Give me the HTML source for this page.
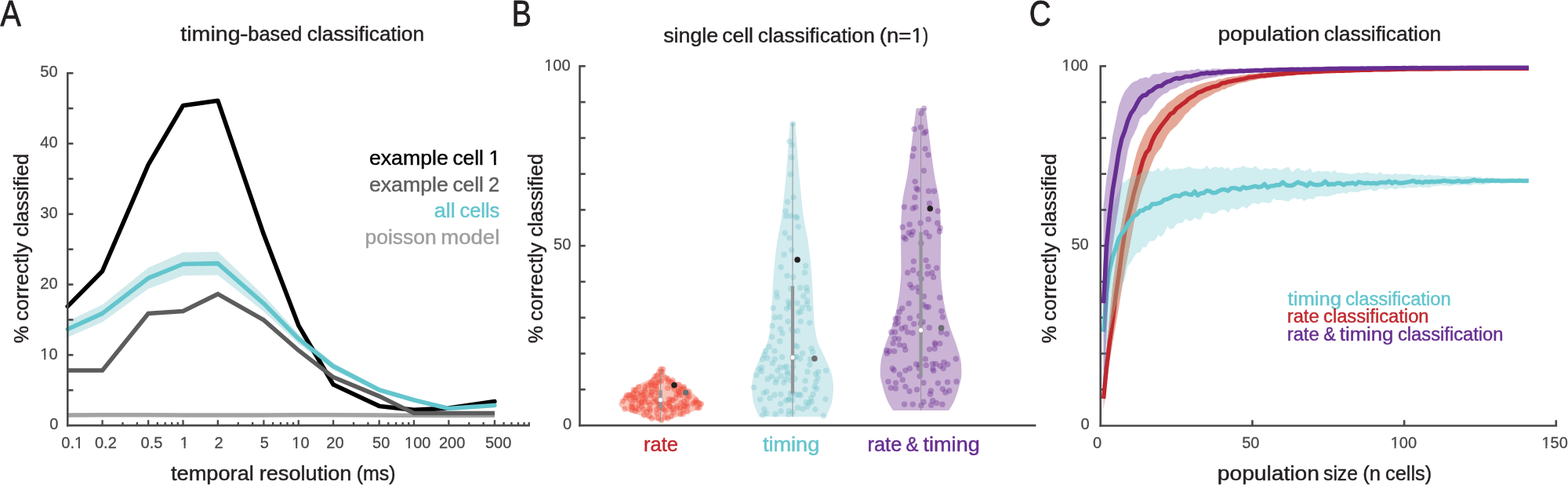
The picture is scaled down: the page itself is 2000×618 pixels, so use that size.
<!DOCTYPE html>
<html lang="en"><head><meta charset="utf-8"><title>classification figure</title>
<style>
html,body{margin:0;padding:0;background:#fff;}
body{width:2000px;height:618px;overflow:hidden;}
svg{display:block;font-family:"Liberation Sans",sans-serif;}
</style></head><body>
<svg width="2000" height="618" viewBox="0 0 2000 618">
<rect width="2000" height="618" fill="#ffffff"/>
<g id="panelA">
<polygon points="86.25,409.14 130.58,388.13 189.17,340.99 233.5,321.69 277.83,320.79 336.42,376.46 380.75,425.39 425.08,462.2 483.67,493.71 528,507.09 572.33,518.76 630.92,514.63 630.92,518.22 572.33,522.35 528,512.47 483.67,499.99 425.08,471.17 380.75,437.96 336.42,397.11 277.83,350.42 233.5,351.32 189.17,367.93 130.58,410.57 86.25,429.79" fill="#d0eaec" fill-opacity="1"/>
<polyline points="86.25,528.99 130.58,528.63 189.17,528.81 233.5,528.99 277.83,529.08 336.42,529.08 380.75,528.63 425.08,528.81 483.67,529.08 528,529.35 572.33,529.53 630.92,529.35" fill="none" stroke="#a3a3a3" stroke-width="5.5" stroke-linejoin="miter" stroke-linecap="butt"/>
<polyline points="86.25,390.37 130.58,345.48 189.17,209.91 233.5,134.5 277.83,128.21 336.42,298.8 380.75,414.61 425.08,490.03 483.67,517.41 528,522.35 572.33,520.1 630.92,511.57" fill="none" stroke="#000000" stroke-width="5.6" stroke-linejoin="round" stroke-linecap="round"/>
<polyline points="86.25,472.07 130.58,472.07 189.17,399.53 233.5,396.48 277.83,374.66 336.42,407.88 380.75,446.48 425.08,480.6 483.67,504.84 528,526.57 572.33,526.57 630.92,526.57" fill="none" stroke="#5c5c5c" stroke-width="5.5" stroke-linejoin="miter" stroke-linecap="butt"/>
<polyline points="86.25,419.46 130.58,399.35 189.17,354.46 233.5,336.5 277.83,335.61 336.42,386.78 380.75,431.67 425.08,466.68 483.67,496.85 528,509.78 572.33,520.55 630.92,516.42" fill="none" stroke="#63c5cd" stroke-width="5.6" stroke-linejoin="round" stroke-linecap="round"/>
<line x1="86.25" y1="91.9" x2="86.25" y2="543.4" stroke="#47484a" stroke-width="2.6"/>
<line x1="84.95" y1="542.1" x2="675.9" y2="542.1" stroke="#47484a" stroke-width="2.6"/>
<line x1="86.25" y1="497.21" x2="93.4" y2="497.21" stroke="#47484a" stroke-width="2.6"/>
<line x1="86.25" y1="452.32" x2="93.4" y2="452.32" stroke="#47484a" stroke-width="2.6"/>
<line x1="86.25" y1="407.43" x2="93.4" y2="407.43" stroke="#47484a" stroke-width="2.6"/>
<line x1="86.25" y1="362.54" x2="93.4" y2="362.54" stroke="#47484a" stroke-width="2.6"/>
<line x1="86.25" y1="317.65" x2="93.4" y2="317.65" stroke="#47484a" stroke-width="2.6"/>
<line x1="86.25" y1="272.76" x2="93.4" y2="272.76" stroke="#47484a" stroke-width="2.6"/>
<line x1="86.25" y1="227.87" x2="93.4" y2="227.87" stroke="#47484a" stroke-width="2.6"/>
<line x1="86.25" y1="182.98" x2="93.4" y2="182.98" stroke="#47484a" stroke-width="2.6"/>
<line x1="86.25" y1="138.09" x2="93.4" y2="138.09" stroke="#47484a" stroke-width="2.6"/>
<line x1="86.25" y1="93.2" x2="93.4" y2="93.2" stroke="#47484a" stroke-width="2.6"/>
<line x1="130.58" y1="542.1" x2="130.58" y2="535.2" stroke="#47484a" stroke-width="2.3"/>
<line x1="156.51" y1="542.1" x2="156.51" y2="538" stroke="#47484a" stroke-width="2.3"/>
<line x1="174.9" y1="542.1" x2="174.9" y2="538" stroke="#47484a" stroke-width="2.3"/>
<line x1="189.17" y1="542.1" x2="189.17" y2="535.2" stroke="#47484a" stroke-width="2.3"/>
<line x1="200.83" y1="542.1" x2="200.83" y2="538" stroke="#47484a" stroke-width="2.3"/>
<line x1="210.69" y1="542.1" x2="210.69" y2="538" stroke="#47484a" stroke-width="2.3"/>
<line x1="219.23" y1="542.1" x2="219.23" y2="538" stroke="#47484a" stroke-width="2.3"/>
<line x1="226.76" y1="542.1" x2="226.76" y2="538" stroke="#47484a" stroke-width="2.3"/>
<line x1="233.5" y1="542.1" x2="233.5" y2="535.2" stroke="#47484a" stroke-width="2.3"/>
<line x1="277.83" y1="542.1" x2="277.83" y2="535.2" stroke="#47484a" stroke-width="2.3"/>
<line x1="303.76" y1="542.1" x2="303.76" y2="538" stroke="#47484a" stroke-width="2.3"/>
<line x1="322.15" y1="542.1" x2="322.15" y2="538" stroke="#47484a" stroke-width="2.3"/>
<line x1="336.42" y1="542.1" x2="336.42" y2="535.2" stroke="#47484a" stroke-width="2.3"/>
<line x1="348.08" y1="542.1" x2="348.08" y2="538" stroke="#47484a" stroke-width="2.3"/>
<line x1="357.94" y1="542.1" x2="357.94" y2="538" stroke="#47484a" stroke-width="2.3"/>
<line x1="366.48" y1="542.1" x2="366.48" y2="538" stroke="#47484a" stroke-width="2.3"/>
<line x1="374.01" y1="542.1" x2="374.01" y2="538" stroke="#47484a" stroke-width="2.3"/>
<line x1="380.75" y1="542.1" x2="380.75" y2="535.2" stroke="#47484a" stroke-width="2.3"/>
<line x1="425.08" y1="542.1" x2="425.08" y2="535.2" stroke="#47484a" stroke-width="2.3"/>
<line x1="451.01" y1="542.1" x2="451.01" y2="538" stroke="#47484a" stroke-width="2.3"/>
<line x1="469.4" y1="542.1" x2="469.4" y2="538" stroke="#47484a" stroke-width="2.3"/>
<line x1="483.67" y1="542.1" x2="483.67" y2="535.2" stroke="#47484a" stroke-width="2.3"/>
<line x1="495.33" y1="542.1" x2="495.33" y2="538" stroke="#47484a" stroke-width="2.3"/>
<line x1="505.19" y1="542.1" x2="505.19" y2="538" stroke="#47484a" stroke-width="2.3"/>
<line x1="513.73" y1="542.1" x2="513.73" y2="538" stroke="#47484a" stroke-width="2.3"/>
<line x1="521.26" y1="542.1" x2="521.26" y2="538" stroke="#47484a" stroke-width="2.3"/>
<line x1="528" y1="542.1" x2="528" y2="535.2" stroke="#47484a" stroke-width="2.3"/>
<line x1="572.33" y1="542.1" x2="572.33" y2="535.2" stroke="#47484a" stroke-width="2.3"/>
<line x1="598.26" y1="542.1" x2="598.26" y2="538" stroke="#47484a" stroke-width="2.3"/>
<line x1="616.65" y1="542.1" x2="616.65" y2="538" stroke="#47484a" stroke-width="2.3"/>
<line x1="630.92" y1="542.1" x2="630.92" y2="535.2" stroke="#47484a" stroke-width="2.3"/>
<line x1="642.58" y1="542.1" x2="642.58" y2="538" stroke="#47484a" stroke-width="2.3"/>
<line x1="652.44" y1="542.1" x2="652.44" y2="538" stroke="#47484a" stroke-width="2.3"/>
<line x1="660.98" y1="542.1" x2="660.98" y2="538" stroke="#47484a" stroke-width="2.3"/>
<line x1="668.51" y1="542.1" x2="668.51" y2="538" stroke="#47484a" stroke-width="2.3"/>
<line x1="674.75" y1="542.1" x2="674.75" y2="538" stroke="#47484a" stroke-width="2.3"/>
<text x="63.29" y="547.3" font-size="20" fill="#48484a" stroke="#48484a" stroke-width="0.3" stroke-linejoin="round">0</text>
<text x="51.37" y="457.52" font-size="20" fill="#48484a" stroke="#48484a" stroke-width="0.3" stroke-linejoin="round">10</text>
<rect x="52.22" y="454.58" width="4.01" height="4.39" fill="#ffffff"/>
<rect x="58.34" y="454.58" width="3.82" height="4.39" fill="#ffffff"/>
<text x="51.37" y="367.74" font-size="20" fill="#48484a" stroke="#48484a" stroke-width="0.3" stroke-linejoin="round">20</text>
<text x="51.37" y="277.96" font-size="20" fill="#48484a" stroke="#48484a" stroke-width="0.3" stroke-linejoin="round">30</text>
<text x="51.37" y="188.18" font-size="20" fill="#48484a" stroke="#48484a" stroke-width="0.3" stroke-linejoin="round">40</text>
<text x="51.37" y="98.4" font-size="20" fill="#48484a" stroke="#48484a" stroke-width="0.3" stroke-linejoin="round">50</text>
<text x="121.01" y="570.9" font-size="20" fill="#48484a" stroke="#48484a" stroke-width="0.3" stroke-linejoin="round">0.2</text>
<text x="179.52" y="570.9" font-size="20" fill="#48484a" stroke="#48484a" stroke-width="0.3" stroke-linejoin="round">0.5</text>
<text x="229.64" y="570.9" font-size="20" fill="#48484a" stroke="#48484a" stroke-width="0.3" stroke-linejoin="round">1</text>
<rect x="230.49" y="567.96" width="4.01" height="4.39" fill="#ffffff"/>
<rect x="236.6" y="567.96" width="3.82" height="4.39" fill="#ffffff"/>
<text x="273.44" y="570.9" font-size="20" fill="#48484a" stroke="#48484a" stroke-width="0.3" stroke-linejoin="round">2</text>
<text x="331.65" y="570.9" font-size="20" fill="#48484a" stroke="#48484a" stroke-width="0.3" stroke-linejoin="round">5</text>
<text x="416.36" y="570.9" font-size="20" fill="#48484a" stroke="#48484a" stroke-width="0.3" stroke-linejoin="round">20</text>
<text x="475.06" y="570.9" font-size="20" fill="#48484a" stroke="#48484a" stroke-width="0.3" stroke-linejoin="round">50</text>
<text x="560" y="570.9" font-size="20" fill="#48484a" stroke="#48484a" stroke-width="0.3" stroke-linejoin="round">200</text>
<text x="618.9" y="570.9" font-size="20" fill="#48484a" stroke="#48484a" stroke-width="0.3" stroke-linejoin="round">500</text>
<text x="78.37" y="570.9" font-size="20" fill="#48484a" stroke="#48484a" stroke-width="0.3" stroke-linejoin="round">0.1</text>
<rect x="95.9" y="567.96" width="4.01" height="4.39" fill="#ffffff"/>
<rect x="102.02" y="567.96" width="3.82" height="4.39" fill="#ffffff"/>
<text x="372.27" y="570.9" font-size="20" fill="#48484a" stroke="#48484a" stroke-width="0.3" stroke-linejoin="round">10</text>
<rect x="373.12" y="567.96" width="4.01" height="4.39" fill="#ffffff"/>
<rect x="379.24" y="567.96" width="3.82" height="4.39" fill="#ffffff"/>
<text x="516.05" y="570.9" font-size="20" fill="#48484a" stroke="#48484a" stroke-width="0.3" stroke-linejoin="round">100</text>
<rect x="516.9" y="567.96" width="4.01" height="4.39" fill="#ffffff"/>
<rect x="523.02" y="567.96" width="3.82" height="4.39" fill="#ffffff"/>
<text y="32.7" font-size="46.5" fill="#231f20" stroke="#231f20" stroke-width="0.9" stroke-linejoin="round"><tspan x="0.57" textLength="26.26" lengthAdjust="spacingAndGlyphs">A</tspan></text>
<text y="52.1" font-size="26.2" fill="#231f20" stroke="#231f20" stroke-width="0.45" stroke-linejoin="round"><tspan x="230.3" textLength="76.32" lengthAdjust="spacingAndGlyphs">timing</tspan><tspan x="305.7" textLength="10.81" lengthAdjust="spacingAndGlyphs">-</tspan><tspan x="316.35" textLength="69.06" lengthAdjust="spacingAndGlyphs">based</tspan> <tspan x="391.72" textLength="149.34" lengthAdjust="spacingAndGlyphs">classification</tspan></text>
<text y="611.75" font-size="26.2" fill="#231f20" stroke="#231f20" stroke-width="0.45" stroke-linejoin="round"><tspan x="218.07" textLength="105.72" lengthAdjust="spacingAndGlyphs">temporal</tspan> <tspan x="330.68" textLength="117.83" lengthAdjust="spacingAndGlyphs">resolution</tspan> <tspan x="454.68" textLength="49.9" lengthAdjust="spacingAndGlyphs">(ms)</tspan></text>
<text y="36.1" font-size="26.2" fill="#231f20" transform="rotate(-90)" stroke="#231f20" stroke-width="0.45" stroke-linejoin="round"><tspan x="-437.46" textLength="22.42" lengthAdjust="spacingAndGlyphs">%</tspan> <tspan x="-409.09" textLength="100.02" lengthAdjust="spacingAndGlyphs">correctly</tspan> <tspan x="-301.76" textLength="106.18" lengthAdjust="spacingAndGlyphs">classified</tspan></text>
<text y="210" font-size="26.2" fill="#000000" stroke="#000000" stroke-width="0.45" stroke-linejoin="round"><tspan x="470.9" textLength="100.84" lengthAdjust="spacingAndGlyphs">example</tspan> <tspan x="577.42" textLength="39.4" lengthAdjust="spacingAndGlyphs">cell</tspan> <tspan x="623.6">1</tspan></text>
<rect x="624.81" y="206.52" width="5.14" height="5.01" fill="#ffffff"/>
<rect x="632.75" y="206.52" width="4.89" height="5.01" fill="#ffffff"/>
<text y="244" font-size="26.2" fill="#5e5e5e" stroke="#5e5e5e" stroke-width="0.45" stroke-linejoin="round"><tspan x="470.9" textLength="100.84" lengthAdjust="spacingAndGlyphs">example</tspan> <tspan x="577.42" textLength="39.4" lengthAdjust="spacingAndGlyphs">cell</tspan> <tspan x="622.96" textLength="14.09" lengthAdjust="spacingAndGlyphs">2</tspan></text>
<text y="277.2" font-size="26.2" fill="#63c5cd" stroke="#63c5cd" stroke-width="0.45" stroke-linejoin="round"><tspan x="553.8" textLength="26.86" lengthAdjust="spacingAndGlyphs">all</tspan> <tspan x="586.46" textLength="50.82" lengthAdjust="spacingAndGlyphs">cells</tspan></text>
<text y="311" font-size="26.2" fill="#9e9e9e" stroke="#9e9e9e" stroke-width="0.45" stroke-linejoin="round"><tspan x="465.43" textLength="91.34" lengthAdjust="spacingAndGlyphs">poisson</tspan> <tspan x="562.2" textLength="75.11" lengthAdjust="spacingAndGlyphs">model</tspan></text>
</g>
<g id="panelB">
<polygon points="847.1,470.5 847.26,471.25 847.44,472 847.67,472.74 847.91,473.49 848.18,474.24 848.47,474.99 848.77,475.74 849.09,476.49 849.42,477.23 849.78,477.98 850.2,478.73 850.69,479.48 851.27,480.23 852.02,480.98 853.23,481.72 854.77,482.47 856.43,483.22 858.04,483.97 859.59,484.72 861.21,485.47 862.87,486.21 864.5,486.96 866.07,487.71 867.53,488.46 868.89,489.21 870.21,489.96 871.48,490.7 872.69,491.45 873.81,492.2 874.83,492.95 875.76,493.7 876.61,494.45 877.41,495.19 878.15,495.94 878.88,496.69 879.59,497.44 880.32,498.19 881.07,498.94 881.86,499.68 882.72,500.43 883.65,501.18 884.62,501.93 885.6,502.68 886.55,503.43 887.44,504.17 888.25,504.92 888.93,505.67 889.52,506.42 890.04,507.17 890.52,507.92 891,508.66 891.51,509.41 892.07,510.16 892.79,510.91 893.68,511.66 894.6,512.41 895.4,513.15 895.95,513.9 896.1,514.65 895.94,515.4 895.61,516.15 895.13,516.9 894.53,517.64 893.86,518.39 893.16,519.14 892.31,519.89 891.19,520.64 889.84,521.39 888.32,522.13 886.68,522.88 884.99,523.63 883.16,524.38 881.04,525.13 878.74,525.88 876.4,526.62 874.18,527.37 872.11,528.12 870.1,528.87 868.12,529.62 866.1,530.37 864.02,531.11 861.81,531.86 859.47,532.61 857.04,533.36 854.56,534.11 852.08,534.86 849.61,535.6 847.11,536.35 844.6,537.1 840.6,537.1 838.09,536.35 835.59,535.6 833.12,534.86 830.64,534.11 828.16,533.36 825.73,532.61 823.39,531.86 821.18,531.11 819.1,530.37 817.08,529.62 815.1,528.87 813.09,528.12 811.02,527.37 808.8,526.62 806.46,525.88 804.16,525.13 802.04,524.38 800.21,523.63 798.52,522.88 796.88,522.13 795.36,521.39 794.01,520.64 792.89,519.89 792.04,519.14 791.34,518.39 790.67,517.64 790.07,516.9 789.59,516.15 789.26,515.4 789.1,514.65 789.25,513.9 789.8,513.15 790.6,512.41 791.52,511.66 792.41,510.91 793.13,510.16 793.69,509.41 794.2,508.66 794.68,507.92 795.16,507.17 795.68,506.42 796.27,505.67 796.95,504.92 797.76,504.17 798.65,503.43 799.6,502.68 800.58,501.93 801.55,501.18 802.48,500.43 803.34,499.68 804.13,498.94 804.88,498.19 805.61,497.44 806.32,496.69 807.05,495.94 807.79,495.19 808.59,494.45 809.44,493.7 810.37,492.95 811.39,492.2 812.51,491.45 813.72,490.7 814.99,489.96 816.31,489.21 817.67,488.46 819.13,487.71 820.7,486.96 822.33,486.21 823.99,485.47 825.61,484.72 827.16,483.97 828.77,483.22 830.43,482.47 831.97,481.72 833.18,480.98 833.93,480.23 834.51,479.48 835,478.73 835.42,477.98 835.78,477.23 836.11,476.49 836.43,475.74 836.73,474.99 837.02,474.24 837.29,473.49 837.53,472.74 837.76,472 837.94,471.25 838.1,470.5" fill="#f9c2b6" fill-opacity="1"/>
<g fill="#ee4230" fill-opacity="0.38">
<circle cx="869.01" cy="496.22" r="3.7"/>
<circle cx="871.7" cy="495.35" r="3.7"/>
<circle cx="853.39" cy="508.8" r="3.7"/>
<circle cx="844.43" cy="519.7" r="3.7"/>
<circle cx="817.85" cy="500.19" r="3.7"/>
<circle cx="852.69" cy="486.71" r="3.7"/>
<circle cx="810.48" cy="506.81" r="3.7"/>
<circle cx="825.04" cy="524.91" r="3.7"/>
<circle cx="823.79" cy="505.65" r="3.7"/>
<circle cx="851.11" cy="514.34" r="3.7"/>
<circle cx="817.92" cy="513.25" r="3.7"/>
<circle cx="823.41" cy="499.58" r="3.7"/>
<circle cx="813.05" cy="501.7" r="3.7"/>
<circle cx="872.27" cy="492.9" r="3.7"/>
<circle cx="828.03" cy="530.34" r="3.7"/>
<circle cx="838.37" cy="478.32" r="3.7"/>
<circle cx="871.78" cy="517.06" r="3.7"/>
<circle cx="843.68" cy="477.95" r="3.7"/>
<circle cx="842.73" cy="470.5" r="3.7"/>
<circle cx="894.35" cy="514.76" r="3.7"/>
<circle cx="865.33" cy="498.24" r="3.7"/>
<circle cx="876.64" cy="524.42" r="3.7"/>
<circle cx="839.21" cy="532.57" r="3.7"/>
<circle cx="846.91" cy="521.73" r="3.7"/>
<circle cx="841.11" cy="519.9" r="3.7"/>
<circle cx="836.04" cy="479.54" r="3.7"/>
<circle cx="829.59" cy="489.24" r="3.7"/>
<circle cx="848.44" cy="530.78" r="3.7"/>
<circle cx="875.85" cy="514.59" r="3.7"/>
<circle cx="867.66" cy="527.73" r="3.7"/>
<circle cx="805.81" cy="522.22" r="3.7"/>
<circle cx="802.13" cy="503.28" r="3.7"/>
<circle cx="872.38" cy="511.16" r="3.7"/>
<circle cx="833.73" cy="483.5" r="3.7"/>
<circle cx="820.19" cy="503.48" r="3.7"/>
<circle cx="828.43" cy="520.92" r="3.7"/>
<circle cx="841.9" cy="514.72" r="3.7"/>
<circle cx="888.32" cy="512.62" r="3.7"/>
<circle cx="821.57" cy="528.95" r="3.7"/>
<circle cx="829.23" cy="523.09" r="3.7"/>
<circle cx="836.85" cy="488.42" r="3.7"/>
<circle cx="887.71" cy="509.71" r="3.7"/>
<circle cx="799.54" cy="503.75" r="3.7"/>
<circle cx="810.22" cy="523.88" r="3.7"/>
<circle cx="876.21" cy="508.38" r="3.7"/>
<circle cx="837.36" cy="509.88" r="3.7"/>
<circle cx="797.05" cy="521.15" r="3.7"/>
<circle cx="833.46" cy="512.19" r="3.7"/>
<circle cx="851.73" cy="533.08" r="3.7"/>
<circle cx="861.8" cy="507.29" r="3.7"/>
<circle cx="830.89" cy="501.92" r="3.7"/>
<circle cx="871.06" cy="527.38" r="3.7"/>
<circle cx="879.16" cy="505.36" r="3.7"/>
<circle cx="807.81" cy="501.83" r="3.7"/>
<circle cx="858.51" cy="510.37" r="3.7"/>
<circle cx="868.28" cy="519.86" r="3.7"/>
<circle cx="863.51" cy="517.46" r="3.7"/>
<circle cx="889.74" cy="519.75" r="3.7"/>
<circle cx="805.69" cy="503.85" r="3.7"/>
<circle cx="822.24" cy="497.19" r="3.7"/>
<circle cx="869.73" cy="503.39" r="3.7"/>
<circle cx="840.94" cy="484.61" r="3.7"/>
<circle cx="820.72" cy="521.7" r="3.7"/>
<circle cx="856.14" cy="487.1" r="3.7"/>
<circle cx="822.9" cy="493.19" r="3.7"/>
<circle cx="871.32" cy="521.77" r="3.7"/>
<circle cx="885.97" cy="512.84" r="3.7"/>
<circle cx="857.93" cy="484.58" r="3.7"/>
<circle cx="822.27" cy="512.13" r="3.7"/>
<circle cx="857.03" cy="522.26" r="3.7"/>
<circle cx="831.2" cy="533.27" r="3.7"/>
<circle cx="839.78" cy="512.52" r="3.7"/>
<circle cx="815.14" cy="515.23" r="3.7"/>
<circle cx="876.95" cy="503.44" r="3.7"/>
<circle cx="834.87" cy="507.58" r="3.7"/>
<circle cx="845.5" cy="514.5" r="3.7"/>
<circle cx="855.97" cy="530.43" r="3.7"/>
<circle cx="814.57" cy="509.14" r="3.7"/>
<circle cx="868.86" cy="513.4" r="3.7"/>
<circle cx="892.16" cy="519.29" r="3.7"/>
<circle cx="837.33" cy="496.02" r="3.7"/>
<circle cx="840.67" cy="503.47" r="3.7"/>
<circle cx="819.08" cy="510.99" r="3.7"/>
<circle cx="831.12" cy="490.87" r="3.7"/>
<circle cx="853.29" cy="516.26" r="3.7"/>
<circle cx="843.47" cy="535.5" r="3.7"/>
<circle cx="854.48" cy="518.12" r="3.7"/>
<circle cx="853.57" cy="512.81" r="3.7"/>
<circle cx="866.56" cy="502.99" r="3.7"/>
<circle cx="810.98" cy="497.52" r="3.7"/>
<circle cx="814.49" cy="492.9" r="3.7"/>
<circle cx="830.9" cy="499.24" r="3.7"/>
<circle cx="806.35" cy="514.19" r="3.7"/>
<circle cx="859.46" cy="525.68" r="3.7"/>
<circle cx="856.55" cy="509.19" r="3.7"/>
<circle cx="810.16" cy="509.67" r="3.7"/>
<circle cx="811.05" cy="519.88" r="3.7"/>
<circle cx="866.03" cy="489.85" r="3.7"/>
<circle cx="806.88" cy="519.48" r="3.7"/>
<circle cx="813.97" cy="521.65" r="3.7"/>
<circle cx="836.83" cy="492.22" r="3.7"/>
<circle cx="845.57" cy="470.5" r="3.7"/>
<circle cx="857.72" cy="492.62" r="3.7"/>
<circle cx="891.23" cy="513.25" r="3.7"/>
<circle cx="863.09" cy="502.22" r="3.7"/>
<circle cx="866.42" cy="500.38" r="3.7"/>
<circle cx="830.88" cy="487.18" r="3.7"/>
<circle cx="807.52" cy="506.68" r="3.7"/>
<circle cx="866.2" cy="495.14" r="3.7"/>
<circle cx="817.73" cy="503.79" r="3.7"/>
<circle cx="849.1" cy="523.22" r="3.7"/>
<circle cx="884.06" cy="514.53" r="3.7"/>
<circle cx="818.29" cy="517.61" r="3.7"/>
<circle cx="843.11" cy="473.75" r="3.7"/>
<circle cx="874.37" cy="517.36" r="3.7"/>
<circle cx="851.67" cy="494.42" r="3.7"/>
<circle cx="836.74" cy="499.97" r="3.7"/>
<circle cx="839.71" cy="515.38" r="3.7"/>
<circle cx="825.76" cy="491.11" r="3.7"/>
<circle cx="828.98" cy="515.87" r="3.7"/>
<circle cx="830.83" cy="495.34" r="3.7"/>
<circle cx="839.89" cy="486.8" r="3.7"/>
<circle cx="837.55" cy="521.62" r="3.7"/>
<circle cx="798.03" cy="507.07" r="3.7"/>
<circle cx="852.2" cy="483.03" r="3.7"/>
<circle cx="876.8" cy="517.63" r="3.7"/>
<circle cx="834.84" cy="490.78" r="3.7"/>
<circle cx="838.21" cy="526.85" r="3.7"/>
<circle cx="826.87" cy="512.6" r="3.7"/>
<circle cx="829.8" cy="503.96" r="3.7"/>
<circle cx="808.37" cy="496.72" r="3.7"/>
<circle cx="849.82" cy="481.51" r="3.7"/>
<circle cx="794.38" cy="511.08" r="3.7"/>
<circle cx="843.55" cy="485.56" r="3.7"/>
<circle cx="878.75" cy="499.07" r="3.7"/>
<circle cx="822.07" cy="508.01" r="3.7"/>
<circle cx="805.15" cy="517.83" r="3.7"/>
<circle cx="864.11" cy="520.53" r="3.7"/>
<circle cx="803.8" cy="508.64" r="3.7"/>
<circle cx="860.29" cy="496.12" r="3.7"/>
<circle cx="858.28" cy="519.64" r="3.7"/>
</g>
<line x1="842.6" y1="470.5" x2="842.6" y2="537.1" stroke="#929496" stroke-width="1"/>
<line x1="842.6" y1="497.2" x2="842.6" y2="520.5" stroke="#929496" stroke-width="4.2"/>
<circle cx="842.6" cy="509.6" r="3.2" fill="#ffffff" stroke="#8c8e90" stroke-width="0.7"/>
<polygon points="1014.2,156.5 1014.54,160.71 1014.88,164.92 1015.22,169.12 1015.55,173.33 1015.87,177.54 1016.17,181.75 1016.47,185.96 1016.77,190.16 1017.07,194.37 1017.37,198.58 1017.69,202.79 1018.02,206.99 1018.36,211.2 1018.72,215.41 1019.09,219.62 1019.47,223.83 1019.85,228.03 1020.25,232.24 1020.66,236.45 1021.07,240.66 1021.48,244.87 1021.9,249.07 1022.31,253.28 1022.74,257.49 1023.18,261.7 1023.65,265.9 1024.14,270.11 1024.68,274.32 1025.27,278.53 1025.96,282.74 1026.74,286.94 1027.57,291.15 1028.41,295.36 1029.24,299.57 1030.02,303.78 1030.71,307.98 1031.3,312.19 1031.85,316.4 1032.38,320.61 1032.88,324.81 1033.36,329.02 1033.8,333.23 1034.22,337.44 1034.6,341.65 1034.95,345.85 1035.28,350.06 1035.58,354.27 1035.86,358.48 1036.13,362.69 1036.39,366.89 1036.63,371.1 1036.87,375.31 1037.08,379.52 1037.27,383.72 1037.44,387.93 1037.62,392.14 1037.8,396.35 1038.02,400.56 1038.27,404.76 1038.58,408.97 1038.97,413.18 1039.46,417.39 1040.05,421.6 1040.74,425.8 1041.55,430.01 1042.55,434.22 1044.05,438.43 1045.92,442.63 1047.99,446.84 1050.07,451.05 1052,455.26 1053.89,459.47 1055.92,463.67 1057.86,467.88 1059.51,472.09 1060.66,476.3 1061.52,480.51 1062.27,484.71 1062.81,488.92 1063,493.13 1062.88,497.34 1062.58,501.54 1062.14,505.75 1061.61,509.96 1060.68,514.17 1059.22,518.38 1057.56,522.58 1055.82,526.79 1053.8,531 968.2,531 966.18,526.79 964.44,522.58 962.78,518.38 961.32,514.17 960.39,509.96 959.86,505.75 959.42,501.54 959.12,497.34 959,493.13 959.19,488.92 959.73,484.71 960.48,480.51 961.34,476.3 962.49,472.09 964.14,467.88 966.08,463.67 968.11,459.47 970,455.26 971.93,451.05 974.01,446.84 976.08,442.63 977.95,438.43 979.45,434.22 980.45,430.01 981.26,425.8 981.95,421.6 982.54,417.39 983.03,413.18 983.42,408.97 983.73,404.76 983.98,400.56 984.2,396.35 984.38,392.14 984.56,387.93 984.73,383.72 984.92,379.52 985.13,375.31 985.37,371.1 985.61,366.89 985.87,362.69 986.14,358.48 986.42,354.27 986.72,350.06 987.05,345.85 987.4,341.65 987.78,337.44 988.2,333.23 988.64,329.02 989.12,324.81 989.62,320.61 990.15,316.4 990.7,312.19 991.29,307.98 991.98,303.78 992.76,299.57 993.59,295.36 994.43,291.15 995.26,286.94 996.04,282.74 996.73,278.53 997.32,274.32 997.86,270.11 998.35,265.9 998.82,261.7 999.26,257.49 999.69,253.28 1000.1,249.07 1000.52,244.87 1000.93,240.66 1001.34,236.45 1001.75,232.24 1002.15,228.03 1002.53,223.83 1002.91,219.62 1003.28,215.41 1003.64,211.2 1003.98,206.99 1004.31,202.79 1004.63,198.58 1004.93,194.37 1005.23,190.16 1005.53,185.96 1005.83,181.75 1006.13,177.54 1006.45,173.33 1006.78,169.12 1007.12,164.92 1007.46,160.71 1007.8,156.5" fill="#d2ebee" fill-opacity="1"/>
<g fill="#67bec8" fill-opacity="0.31">
<circle cx="1011.36" cy="157.67" r="3.7"/>
<circle cx="1006.94" cy="180.1" r="3.7"/>
<circle cx="1010.34" cy="184.85" r="3.7"/>
<circle cx="1009.66" cy="200.48" r="3.7"/>
<circle cx="1008.64" cy="222.23" r="3.7"/>
<circle cx="1012.04" cy="251.45" r="3.7"/>
<circle cx="1004.56" cy="257.23" r="3.7"/>
<circle cx="1002.18" cy="269.12" r="3.7"/>
<circle cx="1002.86" cy="275.24" r="3.7"/>
<circle cx="1008.98" cy="275.24" r="3.7"/>
<circle cx="1015.44" cy="275.92" r="3.7"/>
<circle cx="1016.46" cy="277.62" r="3.7"/>
<circle cx="1018.15" cy="288.83" r="3.7"/>
<circle cx="1001.16" cy="296.99" r="3.7"/>
<circle cx="1006.94" cy="303.1" r="3.7"/>
<circle cx="1009.66" cy="318.39" r="3.7"/>
<circle cx="1000.14" cy="324.51" r="3.7"/>
<circle cx="1027.67" cy="338.78" r="3.7"/>
<circle cx="996.07" cy="340.48" r="3.7"/>
<circle cx="1026.65" cy="347.28" r="3.7"/>
<circle cx="972.56" cy="457.63" r="3.7"/>
<circle cx="1004.85" cy="473.87" r="3.7"/>
<circle cx="997.64" cy="454.96" r="3.7"/>
<circle cx="1016.93" cy="386.23" r="3.7"/>
<circle cx="997.92" cy="424.69" r="3.7"/>
<circle cx="1013.88" cy="482.61" r="3.7"/>
<circle cx="1011.62" cy="353.04" r="3.7"/>
<circle cx="1024.96" cy="377.11" r="3.7"/>
<circle cx="1010.43" cy="509.95" r="3.7"/>
<circle cx="969.61" cy="509.05" r="3.7"/>
<circle cx="971.49" cy="468.08" r="3.7"/>
<circle cx="978.77" cy="456.3" r="3.7"/>
<circle cx="984.23" cy="479.69" r="3.7"/>
<circle cx="1003.44" cy="393.12" r="3.7"/>
<circle cx="985.38" cy="462.7" r="3.7"/>
<circle cx="1009.31" cy="484.88" r="3.7"/>
<circle cx="1000.72" cy="468.08" r="3.7"/>
<circle cx="1019" cy="502.68" r="3.7"/>
<circle cx="1020.59" cy="366.76" r="3.7"/>
<circle cx="1011" cy="525.13" r="3.7"/>
<circle cx="995.77" cy="514.45" r="3.7"/>
<circle cx="1004.03" cy="476.08" r="3.7"/>
<circle cx="1033.45" cy="457.76" r="3.7"/>
<circle cx="1053.67" cy="472.09" r="3.7"/>
<circle cx="971.41" cy="473.18" r="3.7"/>
<circle cx="1034.93" cy="444.05" r="3.7"/>
<circle cx="974.89" cy="452.35" r="3.7"/>
<circle cx="988.7" cy="404.56" r="3.7"/>
<circle cx="1050.36" cy="529.96" r="3.7"/>
<circle cx="1021.16" cy="503.47" r="3.7"/>
<circle cx="977.75" cy="499.31" r="3.7"/>
<circle cx="1012.33" cy="422.36" r="3.7"/>
<circle cx="981.01" cy="441.74" r="3.7"/>
<circle cx="1005.99" cy="528.14" r="3.7"/>
<circle cx="994.99" cy="467.91" r="3.7"/>
<circle cx="1005.09" cy="409.69" r="3.7"/>
<circle cx="1034.42" cy="507.28" r="3.7"/>
<circle cx="976.38" cy="446.96" r="3.7"/>
<circle cx="987.97" cy="503.13" r="3.7"/>
<circle cx="964.97" cy="477.98" r="3.7"/>
<circle cx="999.72" cy="487.41" r="3.7"/>
<circle cx="1003.35" cy="466.93" r="3.7"/>
<circle cx="1014.3" cy="440.27" r="3.7"/>
<circle cx="977.33" cy="526.43" r="3.7"/>
<circle cx="984.52" cy="429.29" r="3.7"/>
<circle cx="1026.89" cy="496.21" r="3.7"/>
<circle cx="1006.83" cy="390.64" r="3.7"/>
<circle cx="1027.1" cy="485.28" r="3.7"/>
<circle cx="1029.4" cy="370.64" r="3.7"/>
<circle cx="974.29" cy="500.83" r="3.7"/>
<circle cx="1035.27" cy="511.84" r="3.7"/>
<circle cx="1015.33" cy="503.27" r="3.7"/>
<circle cx="1032.06" cy="393.35" r="3.7"/>
<circle cx="996.01" cy="479.13" r="3.7"/>
<circle cx="1032.76" cy="411.29" r="3.7"/>
<circle cx="1014.16" cy="454.85" r="3.7"/>
<circle cx="1043.06" cy="481.1" r="3.7"/>
<circle cx="979.01" cy="482.89" r="3.7"/>
<circle cx="1009.95" cy="479.02" r="3.7"/>
<circle cx="1029.96" cy="473.65" r="3.7"/>
<circle cx="994.88" cy="403.99" r="3.7"/>
<circle cx="984.84" cy="415.31" r="3.7"/>
<circle cx="990.69" cy="483.58" r="3.7"/>
<circle cx="991.14" cy="378.42" r="3.7"/>
<circle cx="995.51" cy="418.97" r="3.7"/>
<circle cx="1009.44" cy="419.65" r="3.7"/>
<circle cx="1043.83" cy="473.85" r="3.7"/>
<circle cx="972.87" cy="529.05" r="3.7"/>
<circle cx="1018.28" cy="398.21" r="3.7"/>
<circle cx="1028.66" cy="366.36" r="3.7"/>
<circle cx="1023.14" cy="391.86" r="3.7"/>
<circle cx="1040.9" cy="486.35" r="3.7"/>
<circle cx="1021.37" cy="397.13" r="3.7"/>
<circle cx="1016.94" cy="441.87" r="3.7"/>
<circle cx="1023.52" cy="450.21" r="3.7"/>
<circle cx="1029.63" cy="383.28" r="3.7"/>
<circle cx="1020.63" cy="457.02" r="3.7"/>
<circle cx="1017.34" cy="421.43" r="3.7"/>
<circle cx="1006.35" cy="523.45" r="3.7"/>
<circle cx="1007.28" cy="387.3" r="3.7"/>
<circle cx="1011.63" cy="459.09" r="3.7"/>
<circle cx="968.4" cy="470.79" r="3.7"/>
<circle cx="1008.62" cy="367.77" r="3.7"/>
<circle cx="1039.04" cy="492.69" r="3.7"/>
<circle cx="1011.28" cy="500.73" r="3.7"/>
<circle cx="996.03" cy="523.92" r="3.7"/>
<circle cx="1032.81" cy="464.72" r="3.7"/>
<circle cx="1002.61" cy="510.44" r="3.7"/>
<circle cx="1005.55" cy="509.31" r="3.7"/>
<circle cx="961.36" cy="493.59" r="3.7"/>
<circle cx="974.8" cy="521.49" r="3.7"/>
<circle cx="989.26" cy="487.39" r="3.7"/>
<circle cx="1005.46" cy="384.54" r="3.7"/>
<circle cx="1017.51" cy="519.4" r="3.7"/>
<circle cx="1029.94" cy="518.1" r="3.7"/>
<circle cx="1011.55" cy="467.52" r="3.7"/>
<circle cx="986.1" cy="392.48" r="3.7"/>
<circle cx="1015.96" cy="454.49" r="3.7"/>
<circle cx="1028.24" cy="512.8" r="3.7"/>
<circle cx="1053.01" cy="508.54" r="3.7"/>
<circle cx="1039.73" cy="521.58" r="3.7"/>
<circle cx="1003.98" cy="351.4" r="3.7"/>
<circle cx="1029.33" cy="387.95" r="3.7"/>
<circle cx="995.9" cy="502.53" r="3.7"/>
<circle cx="1040.4" cy="476.33" r="3.7"/>
<circle cx="981.91" cy="507.42" r="3.7"/>
<circle cx="1041.62" cy="495.32" r="3.7"/>
<circle cx="988.41" cy="457.48" r="3.7"/>
<circle cx="1032.27" cy="513.32" r="3.7"/>
<circle cx="994.6" cy="434.75" r="3.7"/>
<circle cx="1002.53" cy="483.22" r="3.7"/>
<circle cx="1024.02" cy="520.96" r="3.7"/>
<circle cx="1036.8" cy="448.53" r="3.7"/>
<circle cx="988.03" cy="447.29" r="3.7"/>
<circle cx="1008.21" cy="501.26" r="3.7"/>
<circle cx="1021.05" cy="409.58" r="3.7"/>
<circle cx="989.23" cy="527.68" r="3.7"/>
<circle cx="1037.24" cy="502.28" r="3.7"/>
<circle cx="1007.22" cy="508.12" r="3.7"/>
<circle cx="991.85" cy="472.19" r="3.7"/>
<circle cx="990.59" cy="373.09" r="3.7"/>
</g>
<line x1="1011" y1="156.5" x2="1011" y2="531" stroke="#929496" stroke-width="1"/>
<line x1="1011" y1="364.5" x2="1011" y2="501.4" stroke="#929496" stroke-width="4.2"/>
<circle cx="1011" cy="455.5" r="3.2" fill="#ffffff" stroke="#8c8e90" stroke-width="0.7"/>
<polygon points="1180.6,138.1 1181.15,142.43 1181.71,146.75 1182.27,151.08 1182.83,155.4 1183.39,159.73 1183.96,164.06 1184.52,168.38 1185.09,172.71 1185.66,177.03 1186.21,181.36 1186.77,185.68 1187.32,190.01 1187.87,194.34 1188.43,198.66 1189,202.99 1189.58,207.31 1190.18,211.64 1190.8,215.97 1191.43,220.29 1192.1,224.62 1192.86,228.94 1193.73,233.27 1194.65,237.59 1195.57,241.92 1196.45,246.25 1197.23,250.57 1197.87,254.9 1198.32,259.22 1198.66,263.55 1198.98,267.88 1199.28,272.2 1199.55,276.53 1199.78,280.85 1199.95,285.18 1200.06,289.5 1200.1,293.83 1200.1,298.16 1200.08,302.48 1200.06,306.81 1200.03,311.13 1200,315.46 1199.97,319.79 1199.94,324.11 1199.91,328.44 1199.88,332.76 1199.84,337.09 1199.81,341.41 1199.8,345.74 1199.93,350.07 1200.19,354.39 1200.55,358.72 1200.94,363.04 1201.35,367.37 1201.85,371.7 1202.43,376.02 1203.1,380.35 1203.82,384.67 1204.6,389 1205.46,393.32 1206.44,397.65 1207.53,401.98 1208.69,406.3 1209.92,410.63 1211.19,414.95 1212.52,419.28 1214.04,423.61 1215.67,427.93 1217.34,432.26 1218.93,436.58 1220.35,440.91 1221.68,445.23 1223.04,449.56 1224.28,453.89 1225.26,458.21 1225.83,462.54 1226.15,466.86 1226.39,471.19 1226.5,475.52 1226.24,479.84 1225.45,484.17 1224.36,488.49 1223.2,492.82 1222.05,497.14 1220.73,501.47 1219.2,505.8 1217.48,510.12 1215.43,514.45 1212.92,518.77 1210.1,523.1 1139.1,523.1 1136.28,518.77 1133.77,514.45 1131.72,510.12 1130,505.8 1128.47,501.47 1127.15,497.14 1126,492.82 1124.84,488.49 1123.75,484.17 1122.96,479.84 1122.7,475.52 1122.81,471.19 1123.05,466.86 1123.37,462.54 1123.94,458.21 1124.92,453.89 1126.16,449.56 1127.52,445.23 1128.85,440.91 1130.27,436.58 1131.86,432.26 1133.53,427.93 1135.16,423.61 1136.68,419.28 1138.01,414.95 1139.28,410.63 1140.51,406.3 1141.67,401.98 1142.76,397.65 1143.74,393.32 1144.6,389 1145.38,384.67 1146.1,380.35 1146.77,376.02 1147.35,371.7 1147.85,367.37 1148.26,363.04 1148.65,358.72 1149.01,354.39 1149.27,350.07 1149.4,345.74 1149.39,341.41 1149.36,337.09 1149.32,332.76 1149.29,328.44 1149.26,324.11 1149.23,319.79 1149.2,315.46 1149.17,311.13 1149.14,306.81 1149.12,302.48 1149.1,298.16 1149.1,293.83 1149.14,289.5 1149.25,285.18 1149.42,280.85 1149.65,276.53 1149.92,272.2 1150.22,267.88 1150.54,263.55 1150.88,259.22 1151.33,254.9 1151.97,250.57 1152.75,246.25 1153.63,241.92 1154.55,237.59 1155.47,233.27 1156.34,228.94 1157.1,224.62 1157.77,220.29 1158.4,215.97 1159.02,211.64 1159.62,207.31 1160.2,202.99 1160.77,198.66 1161.33,194.34 1161.88,190.01 1162.43,185.68 1162.99,181.36 1163.54,177.03 1164.11,172.71 1164.68,168.38 1165.24,164.06 1165.81,159.73 1166.37,155.4 1166.93,151.08 1167.49,146.75 1168.05,142.43 1168.6,138.1" fill="#cab3d5" fill-opacity="1"/>
<g fill="#6a2c91" fill-opacity="0.37">
<circle cx="1178.65" cy="138.1" r="3.7"/>
<circle cx="1175.17" cy="144.36" r="3.7"/>
<circle cx="1166.12" cy="164.54" r="3.7"/>
<circle cx="1174.47" cy="162.11" r="3.7"/>
<circle cx="1180.74" cy="167.68" r="3.7"/>
<circle cx="1178.65" cy="169.76" r="3.7"/>
<circle cx="1165.77" cy="189.6" r="3.7"/>
<circle cx="1180.04" cy="189.6" r="3.7"/>
<circle cx="1164.03" cy="199" r="3.7"/>
<circle cx="1183.87" cy="197.26" r="3.7"/>
<circle cx="1178.3" cy="217.44" r="3.7"/>
<circle cx="1167.16" cy="231.36" r="3.7"/>
<circle cx="1168.9" cy="240.06" r="3.7"/>
<circle cx="1170.64" cy="241.8" r="3.7"/>
<circle cx="1184.56" cy="243.54" r="3.7"/>
<circle cx="1191.52" cy="243.54" r="3.7"/>
<circle cx="1166.82" cy="251.54" r="3.7"/>
<circle cx="1185.61" cy="259.2" r="3.7"/>
<circle cx="1153.24" cy="263.72" r="3.7"/>
<circle cx="1164.38" cy="265.46" r="3.7"/>
<circle cx="1167.51" cy="264.07" r="3.7"/>
<circle cx="1196.4" cy="268.94" r="3.7"/>
<circle cx="1184.22" cy="279.38" r="3.7"/>
<circle cx="1174.12" cy="284.26" r="3.7"/>
<circle cx="1160.2" cy="286" r="3.7"/>
<circle cx="1195.7" cy="284.26" r="3.7"/>
<circle cx="1151.16" cy="289.48" r="3.7"/>
<circle cx="1199.18" cy="290.52" r="3.7"/>
<circle cx="1198.48" cy="295.04" r="3.7"/>
<circle cx="1159.16" cy="296.78" r="3.7"/>
<circle cx="1164.38" cy="295.04" r="3.7"/>
<circle cx="1162.64" cy="299.22" r="3.7"/>
<circle cx="1181.08" cy="296.44" r="3.7"/>
<circle cx="1185.26" cy="301.31" r="3.7"/>
<circle cx="1152.9" cy="302.35" r="3.7"/>
<circle cx="1154.98" cy="304.44" r="3.7"/>
<circle cx="1174.82" cy="309.66" r="3.7"/>
<circle cx="1165.42" cy="332.98" r="3.7"/>
<circle cx="1181.08" cy="331.58" r="3.7"/>
<circle cx="1192.75" cy="438.85" r="3.7"/>
<circle cx="1175.12" cy="355.19" r="3.7"/>
<circle cx="1210.81" cy="498.06" r="3.7"/>
<circle cx="1142.14" cy="413.05" r="3.7"/>
<circle cx="1185.29" cy="417.46" r="3.7"/>
<circle cx="1182.98" cy="348.94" r="3.7"/>
<circle cx="1130.83" cy="446.48" r="3.7"/>
<circle cx="1153.36" cy="440.45" r="3.7"/>
<circle cx="1160.6" cy="405.42" r="3.7"/>
<circle cx="1168.66" cy="463.96" r="3.7"/>
<circle cx="1198.81" cy="437.63" r="3.7"/>
<circle cx="1160.8" cy="362.7" r="3.7"/>
<circle cx="1200.83" cy="396.44" r="3.7"/>
<circle cx="1187.81" cy="516.27" r="3.7"/>
<circle cx="1205.79" cy="499.99" r="3.7"/>
<circle cx="1150.73" cy="392.88" r="3.7"/>
<circle cx="1180.27" cy="457.38" r="3.7"/>
<circle cx="1159.16" cy="386.65" r="3.7"/>
<circle cx="1172.64" cy="402.69" r="3.7"/>
<circle cx="1164.73" cy="344.2" r="3.7"/>
<circle cx="1200.49" cy="417.68" r="3.7"/>
<circle cx="1154.81" cy="445.65" r="3.7"/>
<circle cx="1172.44" cy="348.68" r="3.7"/>
<circle cx="1140.88" cy="431.23" r="3.7"/>
<circle cx="1164.08" cy="424.26" r="3.7"/>
<circle cx="1199.28" cy="466.35" r="3.7"/>
<circle cx="1193.45" cy="463.63" r="3.7"/>
<circle cx="1184.33" cy="391.24" r="3.7"/>
<circle cx="1178.47" cy="377.8" r="3.7"/>
<circle cx="1171.78" cy="371.69" r="3.7"/>
<circle cx="1153.6" cy="515.11" r="3.7"/>
<circle cx="1189.59" cy="463.69" r="3.7"/>
<circle cx="1172.1" cy="469" r="3.7"/>
<circle cx="1134.49" cy="447.53" r="3.7"/>
<circle cx="1147.28" cy="439.34" r="3.7"/>
<circle cx="1189.59" cy="510.4" r="3.7"/>
<circle cx="1192.39" cy="436.91" r="3.7"/>
<circle cx="1194.84" cy="341.44" r="3.7"/>
<circle cx="1196.49" cy="488.14" r="3.7"/>
<circle cx="1200.52" cy="423.46" r="3.7"/>
<circle cx="1190.74" cy="472.38" r="3.7"/>
<circle cx="1186.46" cy="502.22" r="3.7"/>
<circle cx="1177.6" cy="388.35" r="3.7"/>
<circle cx="1203.21" cy="469.28" r="3.7"/>
<circle cx="1201.9" cy="515.25" r="3.7"/>
<circle cx="1139.22" cy="437.42" r="3.7"/>
<circle cx="1207.68" cy="425.51" r="3.7"/>
<circle cx="1173.1" cy="479.37" r="3.7"/>
<circle cx="1154.46" cy="417.04" r="3.7"/>
<circle cx="1187.42" cy="497.95" r="3.7"/>
<circle cx="1145.51" cy="405.11" r="3.7"/>
<circle cx="1189.79" cy="470.1" r="3.7"/>
<circle cx="1157.59" cy="423.14" r="3.7"/>
<circle cx="1219.3" cy="457.18" r="3.7"/>
<circle cx="1145.3" cy="411.55" r="3.7"/>
<circle cx="1177.9" cy="512.22" r="3.7"/>
<circle cx="1142.64" cy="487.84" r="3.7"/>
<circle cx="1183.71" cy="339.61" r="3.7"/>
<circle cx="1160.09" cy="498.57" r="3.7"/>
<circle cx="1154.88" cy="492.62" r="3.7"/>
<circle cx="1140.19" cy="471.79" r="3.7"/>
<circle cx="1208.65" cy="464.26" r="3.7"/>
<circle cx="1160.45" cy="469.52" r="3.7"/>
<circle cx="1138.4" cy="469.45" r="3.7"/>
<circle cx="1170.56" cy="366.2" r="3.7"/>
<circle cx="1142.38" cy="495.07" r="3.7"/>
<circle cx="1202.33" cy="495.61" r="3.7"/>
<circle cx="1164.29" cy="515.12" r="3.7"/>
<circle cx="1220.07" cy="486.18" r="3.7"/>
<circle cx="1172.85" cy="464.89" r="3.7"/>
<circle cx="1190.62" cy="353.27" r="3.7"/>
<circle cx="1136.45" cy="494.13" r="3.7"/>
<circle cx="1208.52" cy="486.85" r="3.7"/>
<circle cx="1163.49" cy="366.59" r="3.7"/>
<circle cx="1177.26" cy="410.19" r="3.7"/>
<circle cx="1177.97" cy="487.75" r="3.7"/>
<circle cx="1147.49" cy="477.3" r="3.7"/>
<circle cx="1194.58" cy="513.55" r="3.7"/>
<circle cx="1198.65" cy="379.17" r="3.7"/>
<circle cx="1154.94" cy="472.06" r="3.7"/>
<circle cx="1146.36" cy="431.84" r="3.7"/>
<circle cx="1174.81" cy="516.79" r="3.7"/>
<circle cx="1133.01" cy="486.37" r="3.7"/>
<circle cx="1141.54" cy="423.13" r="3.7"/>
<circle cx="1169.6" cy="496.39" r="3.7"/>
<circle cx="1174.45" cy="411.79" r="3.7"/>
<circle cx="1185.58" cy="445.11" r="3.7"/>
<circle cx="1181.46" cy="390.94" r="3.7"/>
<circle cx="1188.78" cy="347.42" r="3.7"/>
<circle cx="1136.84" cy="423.28" r="3.7"/>
<circle cx="1150.14" cy="418.72" r="3.7"/>
<circle cx="1203.92" cy="461.72" r="3.7"/>
<circle cx="1192.22" cy="444.13" r="3.7"/>
<circle cx="1147.1" cy="397.49" r="3.7"/>
<circle cx="1165.79" cy="412.66" r="3.7"/>
<circle cx="1140.71" cy="447.59" r="3.7"/>
<circle cx="1151.31" cy="483.92" r="3.7"/>
<circle cx="1202.44" cy="403.9" r="3.7"/>
<circle cx="1157.76" cy="347.44" r="3.7"/>
<circle cx="1181.3" cy="465.42" r="3.7"/>
<circle cx="1131.42" cy="450.21" r="3.7"/>
<circle cx="1142.34" cy="406.11" r="3.7"/>
</g>
<line x1="1174.6" y1="138.1" x2="1174.6" y2="523.1" stroke="#929496" stroke-width="1"/>
<line x1="1174.6" y1="295.7" x2="1174.6" y2="479.6" stroke="#929496" stroke-width="4.2"/>
<circle cx="1174.6" cy="420.8" r="3.2" fill="#ffffff" stroke="#8c8e90" stroke-width="0.7"/>
<circle cx="860" cy="490.8" r="3.8" fill="#231f20"/>
<circle cx="874.6" cy="500.2" r="3.8" fill="#6d6e70"/>
<circle cx="1017.1" cy="331" r="3.8" fill="#231f20"/>
<circle cx="1038.9" cy="456.9" r="3.8" fill="#6d6e70"/>
<circle cx="1186.3" cy="265.8" r="3.8" fill="#231f20"/>
<circle cx="1200.6" cy="418" r="3.8" fill="#6d6e70"/>
<line x1="739.5" y1="83" x2="739.5" y2="543.4" stroke="#47484a" stroke-width="2.6"/>
<line x1="738.2" y1="542.1" x2="1321.4" y2="542.1" stroke="#47484a" stroke-width="2.6"/>
<line x1="739.5" y1="496.32" x2="746.7" y2="496.32" stroke="#47484a" stroke-width="2.6"/>
<line x1="739.5" y1="450.54" x2="746.7" y2="450.54" stroke="#47484a" stroke-width="2.6"/>
<line x1="739.5" y1="404.76" x2="746.7" y2="404.76" stroke="#47484a" stroke-width="2.6"/>
<line x1="739.5" y1="358.98" x2="746.7" y2="358.98" stroke="#47484a" stroke-width="2.6"/>
<line x1="739.5" y1="313.2" x2="746.7" y2="313.2" stroke="#47484a" stroke-width="2.6"/>
<line x1="739.5" y1="267.42" x2="746.7" y2="267.42" stroke="#47484a" stroke-width="2.6"/>
<line x1="739.5" y1="221.64" x2="746.7" y2="221.64" stroke="#47484a" stroke-width="2.6"/>
<line x1="739.5" y1="175.86" x2="746.7" y2="175.86" stroke="#47484a" stroke-width="2.6"/>
<line x1="739.5" y1="130.08" x2="746.7" y2="130.08" stroke="#47484a" stroke-width="2.6"/>
<line x1="739.5" y1="84.3" x2="746.7" y2="84.3" stroke="#47484a" stroke-width="2.6"/>
<text x="717.99" y="547.3" font-size="20" fill="#48484a" stroke="#48484a" stroke-width="0.3" stroke-linejoin="round">0</text>
<text x="706.07" y="318.4" font-size="20" fill="#48484a" stroke="#48484a" stroke-width="0.3" stroke-linejoin="round">50</text>
<text x="694.15" y="89.5" font-size="20" fill="#48484a" stroke="#48484a" stroke-width="0.3" stroke-linejoin="round">100</text>
<rect x="695" y="86.56" width="4.01" height="4.39" fill="#ffffff"/>
<rect x="701.12" y="86.56" width="3.82" height="4.39" fill="#ffffff"/>
<text y="32.7" font-size="46.5" fill="#231f20" stroke="#231f20" stroke-width="0.9" stroke-linejoin="round"><tspan x="652.86" textLength="25.15" lengthAdjust="spacingAndGlyphs">B</tspan></text>
<text y="54.4" font-size="26.2" fill="#231f20" stroke="#231f20" stroke-width="0.45" stroke-linejoin="round"><tspan x="846.15" textLength="70.05" lengthAdjust="spacingAndGlyphs">single</tspan> <tspan x="921.37" textLength="39.51" lengthAdjust="spacingAndGlyphs">cell</tspan> <tspan x="966.87" textLength="148.98" lengthAdjust="spacingAndGlyphs">classification</tspan> <tspan x="1121.82" textLength="40.61" lengthAdjust="spacingAndGlyphs">(n=</tspan><tspan x="1162.4">1</tspan><tspan x="1177.12" textLength="7.2" lengthAdjust="spacingAndGlyphs">)</tspan></text>
<rect x="1163.61" y="50.92" width="5.14" height="5.01" fill="#ffffff"/>
<rect x="1171.54" y="50.92" width="4.89" height="5.01" fill="#ffffff"/>
<text y="692.4" font-size="26.2" fill="#231f20" transform="rotate(-90)" stroke="#231f20" stroke-width="0.45" stroke-linejoin="round"><tspan x="-437.46" textLength="22.42" lengthAdjust="spacingAndGlyphs">%</tspan> <tspan x="-409.09" textLength="100.02" lengthAdjust="spacingAndGlyphs">correctly</tspan> <tspan x="-301.76" textLength="106.18" lengthAdjust="spacingAndGlyphs">classified</tspan></text>
<text y="575.25" font-size="25.2" fill="#c1272d" stroke="#c1272d" stroke-width="0.45" stroke-linejoin="round"><tspan x="821.05" textLength="43.85" lengthAdjust="spacingAndGlyphs">rate</tspan></text>
<text y="575.25" font-size="25.2" fill="#63c5cd" stroke="#63c5cd" stroke-width="0.45" stroke-linejoin="round"><tspan x="972.92" textLength="72.36" lengthAdjust="spacingAndGlyphs">timing</tspan></text>
<text y="575.2" font-size="25.2" fill="#662d91" stroke="#662d91" stroke-width="0.45" stroke-linejoin="round"><tspan x="1106.55" textLength="43.75" lengthAdjust="spacingAndGlyphs">rate</tspan> <tspan x="1155.53" textLength="16.05" lengthAdjust="spacingAndGlyphs">&amp;</tspan> <tspan x="1177.57" textLength="72.15" lengthAdjust="spacingAndGlyphs">timing</tspan></text>
</g>
<g id="panelC">
<line x1="1403.7" y1="83" x2="1403.7" y2="543.7" stroke="#47484a" stroke-width="2.6"/>
<line x1="1402.4" y1="542.45" x2="1986.1" y2="542.45" stroke="#47484a" stroke-width="2.6"/>
<line x1="1403.7" y1="496.32" x2="1411" y2="496.32" stroke="#47484a" stroke-width="2.6"/>
<line x1="1403.7" y1="450.54" x2="1411" y2="450.54" stroke="#47484a" stroke-width="2.6"/>
<line x1="1403.7" y1="404.76" x2="1411" y2="404.76" stroke="#47484a" stroke-width="2.6"/>
<line x1="1403.7" y1="358.98" x2="1411" y2="358.98" stroke="#47484a" stroke-width="2.6"/>
<line x1="1403.7" y1="313.2" x2="1411" y2="313.2" stroke="#47484a" stroke-width="2.6"/>
<line x1="1403.7" y1="267.42" x2="1411" y2="267.42" stroke="#47484a" stroke-width="2.6"/>
<line x1="1403.7" y1="221.64" x2="1411" y2="221.64" stroke="#47484a" stroke-width="2.6"/>
<line x1="1403.7" y1="175.86" x2="1411" y2="175.86" stroke="#47484a" stroke-width="2.6"/>
<line x1="1403.7" y1="130.08" x2="1411" y2="130.08" stroke="#47484a" stroke-width="2.6"/>
<line x1="1403.7" y1="84.3" x2="1411" y2="84.3" stroke="#47484a" stroke-width="2.6"/>
<line x1="1597.4" y1="542.45" x2="1597.4" y2="535.3" stroke="#47484a" stroke-width="2.6"/>
<line x1="1791.1" y1="542.45" x2="1791.1" y2="535.3" stroke="#47484a" stroke-width="2.6"/>
<line x1="1984.8" y1="542.45" x2="1984.8" y2="535.3" stroke="#47484a" stroke-width="2.6"/>
<defs><clipPath id="cyclip"><polygon points="1407.57,335 1411.45,291.18 1415.32,271.95 1419.2,264.38 1423.07,253.3 1426.94,243.89 1430.82,232.2 1434.69,231.75 1438.57,228.17 1442.44,226.6 1446.31,224.7 1450.19,224.04 1454.06,222.09 1457.94,217.59 1461.81,218.65 1465.68,217.47 1469.56,218.43 1473.43,217.48 1477.31,213.76 1481.18,218.33 1485.05,216.34 1488.93,212.61 1492.8,216.98 1496.68,215.15 1500.55,215.65 1504.42,214.87 1508.3,215.03 1512.17,213.89 1516.05,211.95 1519.92,213.62 1523.79,214.89 1527.67,214.63 1531.54,215.61 1535.42,214.38 1539.29,210.86 1543.16,215.72 1547.04,213.2 1550.91,212.33 1554.79,214 1558.66,212.31 1562.53,215.14 1566.41,213.06 1570.28,217.75 1574.16,214.2 1578.03,213.72 1581.9,213.59 1585.78,211.17 1589.65,213.3 1593.53,213.52 1597.4,214.26 1601.27,211.22 1605.15,214.95 1609.02,217.03 1612.9,214.29 1616.77,214.95 1620.64,215.79 1624.52,213.85 1628.39,214.5 1632.27,216.83 1636.14,215.65 1640.01,213.44 1643.89,212.65 1647.76,219.27 1651.64,216.5 1655.51,213.5 1659.38,216.46 1663.26,217.51 1667.13,216.9 1671.01,214.16 1674.88,219.94 1678.75,218.4 1682.63,217.53 1686.5,219.01 1690.38,218.01 1694.25,218.1 1698.12,219.9 1702,216.39 1705.87,220.34 1709.75,219.73 1713.62,220.31 1717.49,220.63 1721.37,221.51 1725.24,221.49 1729.12,220.95 1732.99,219.62 1736.86,220.96 1740.74,219.78 1744.61,219.39 1748.49,221.05 1752.36,221.06 1756.23,222.05 1760.11,218.72 1763.98,221.66 1767.86,221.86 1771.73,221.43 1775.6,222.89 1779.48,220.74 1783.35,222.03 1787.23,221.49 1791.1,221.95 1794.97,221.21 1798.85,222.1 1802.72,222.94 1806.6,222.58 1810.47,222.9 1814.34,222.09 1818.22,224.19 1822.09,222.44 1825.97,223.16 1829.84,223.75 1833.71,223.29 1837.59,224.16 1841.46,223.88 1845.34,225.14 1849.21,224.45 1853.08,224.5 1856.96,223.84 1860.83,224.88 1864.71,225.4 1868.58,225.19 1872.45,224.52 1876.33,224.96 1880.2,225.35 1884.08,225.69 1887.95,225.11 1891.82,227.1 1895.7,226.24 1899.57,226.57 1903.45,226.51 1907.32,226.93 1911.19,228.02 1915.07,227.02 1918.94,227.46 1922.82,227.55 1926.69,228.01 1930.56,228.93 1934.44,228.59 1938.31,228.94 1942.19,228.88 1946.06,229.59 1949.93,230.07 1949.93,229.85 1946.06,230.8 1942.19,231.45 1938.31,231.27 1934.44,231.78 1930.56,232.26 1926.69,232.73 1922.82,232.77 1918.94,232.68 1915.07,232.8 1911.19,232.63 1907.32,233.41 1903.45,232.62 1899.57,234.49 1895.7,234.51 1891.82,234.98 1887.95,235.41 1884.08,234.69 1880.2,234.47 1876.33,235.99 1872.45,236.32 1868.58,235.68 1864.71,235.36 1860.83,236.62 1856.96,235.4 1853.08,236.3 1849.21,237.15 1845.34,236.59 1841.46,236.85 1837.59,236.11 1833.71,236.81 1829.84,237.01 1825.97,237.89 1822.09,239.52 1818.22,238.43 1814.34,239.34 1810.47,237.84 1806.6,239.48 1802.72,239.14 1798.85,239.24 1794.97,238.73 1791.1,240.26 1787.23,239.55 1783.35,239.67 1779.48,241.77 1775.6,239.57 1771.73,240.31 1767.86,241.88 1763.98,240.44 1760.11,240.11 1756.23,242.65 1752.36,243.69 1748.49,241.11 1744.61,242.03 1740.74,243.07 1736.86,242.78 1732.99,245.01 1729.12,244.68 1725.24,244.65 1721.37,244.3 1717.49,247.06 1713.62,245.61 1709.75,246.87 1705.87,246.48 1702,248.33 1698.12,248.91 1694.25,250.33 1690.38,250.14 1686.5,249.68 1682.63,250.22 1678.75,250.48 1674.88,253.9 1671.01,252.97 1667.13,253.95 1663.26,256.62 1659.38,252.86 1655.51,254.42 1651.64,252.31 1647.76,253.62 1643.89,256.7 1640.01,256.25 1636.14,255.35 1632.27,254.88 1628.39,254.95 1624.52,252.89 1620.64,258.46 1616.77,258.74 1612.9,258.12 1609.02,257.57 1605.15,260.55 1601.27,258.87 1597.4,259.37 1593.53,262.62 1589.65,266.04 1585.78,262.79 1581.9,264.93 1578.03,267.86 1574.16,265.73 1570.28,265.69 1566.41,271.16 1562.53,267.49 1558.66,267.49 1554.79,268.62 1550.91,271.74 1547.04,273 1543.16,271.44 1539.29,270.4 1535.42,271.2 1531.54,279.92 1527.67,279.19 1523.79,277.46 1519.92,281.45 1516.05,281.31 1512.17,278.78 1508.3,284.02 1504.42,284.18 1500.55,285.39 1496.68,290.92 1492.8,292.16 1488.93,288.44 1485.05,297.05 1481.18,302.22 1477.31,299.26 1473.43,305.89 1469.56,307.27 1465.68,307.63 1461.81,315.14 1457.94,315.07 1454.06,321.67 1450.19,322.24 1446.31,327.23 1442.44,334.13 1438.57,339.09 1434.69,356.11 1430.82,363.1 1426.94,377.13 1423.07,389.76 1419.2,404.02 1415.32,421.38 1411.45,439.69 1407.57,485"/></clipPath></defs>
<polygon points="1407.57,495 1411.45,446.11 1415.32,403.84 1419.2,365.12 1423.07,335.06 1426.94,306.93 1430.82,282.77 1434.69,261.81 1438.57,242.45 1442.44,223.96 1446.31,207.76 1450.19,193.43 1454.06,182.84 1457.94,174.36 1461.81,166.18 1465.68,160.06 1469.56,155.4 1473.43,150.54 1477.31,144.53 1481.18,139.58 1485.05,136.57 1488.93,131.64 1492.8,128.8 1496.68,126.25 1500.55,122.86 1504.42,119.97 1508.3,118.15 1512.17,115.1 1516.05,113.51 1519.92,111.43 1523.79,110 1527.67,108.27 1531.54,107.05 1535.42,105.68 1539.29,104.82 1543.16,103.8 1547.04,102.98 1550.91,102.61 1554.79,100.43 1558.66,100.78 1562.53,99.32 1566.41,98.16 1570.28,97.81 1574.16,97.24 1578.03,96.93 1581.9,95.71 1585.78,95.52 1589.65,94.96 1593.53,93.99 1597.4,93.65 1601.27,93.63 1605.15,93.22 1609.02,92.91 1612.9,92.43 1616.77,92.06 1620.64,91.68 1624.52,91.59 1628.39,90.9 1632.27,90.79 1636.14,90.66 1640.01,90.12 1643.89,90.46 1647.76,89.93 1651.64,89.89 1655.51,90.09 1659.38,89.48 1663.26,89.38 1667.13,89.55 1671.01,89.04 1674.88,89.01 1678.75,89.02 1682.63,88.9 1686.5,88.8 1690.38,88.67 1694.25,88.69 1698.12,88.55 1702,88.42 1705.87,88.19 1709.75,88.11 1713.62,87.91 1717.49,88.11 1721.37,87.79 1725.24,88 1729.12,88.02 1732.99,87.69 1736.86,87.66 1740.74,87.62 1744.61,87.67 1748.49,87.46 1752.36,87.47 1756.23,87.38 1760.11,87.35 1763.98,87.42 1767.86,87.2 1771.73,87.23 1775.6,87.2 1779.48,87.2 1783.35,87.02 1787.23,87.15 1791.1,87.08 1794.97,87.09 1798.85,87.02 1802.72,86.91 1806.6,86.96 1810.47,87.04 1814.34,87 1818.22,87 1822.09,87.09 1825.97,87.1 1829.84,87 1833.71,87.08 1837.59,86.92 1841.46,86.92 1845.34,87.04 1849.21,87 1853.08,87.03 1856.96,87.03 1860.83,87.01 1864.71,87.04 1868.58,87.02 1872.45,86.97 1876.33,87.03 1880.2,87.03 1884.08,87.09 1887.95,87 1891.82,87.04 1895.7,87.03 1899.57,87.05 1903.45,87.12 1907.32,87.08 1911.19,87.06 1915.07,87.09 1918.94,87.12 1922.82,87.07 1926.69,87.11 1930.56,87.18 1934.44,87.17 1938.31,87.15 1942.19,87.15 1946.06,87.18 1949.93,87.15 1949.93,87.17 1946.06,87.22 1942.19,87.16 1938.31,87.22 1934.44,87.23 1930.56,87.24 1926.69,87.31 1922.82,87.36 1918.94,87.3 1915.07,87.35 1911.19,87.43 1907.32,87.49 1903.45,87.53 1899.57,87.56 1895.7,87.58 1891.82,87.66 1887.95,87.68 1884.08,87.72 1880.2,87.76 1876.33,87.9 1872.45,87.93 1868.58,87.97 1864.71,88.06 1860.83,88.06 1856.96,88.12 1853.08,88.19 1849.21,88.23 1845.34,88.39 1841.46,88.45 1837.59,88.45 1833.71,88.51 1829.84,88.61 1825.97,88.67 1822.09,88.7 1818.22,88.83 1814.34,88.84 1810.47,88.91 1806.6,88.97 1802.72,89.09 1798.85,89.18 1794.97,89.34 1791.1,89.44 1787.23,89.45 1783.35,89.61 1779.48,89.59 1775.6,89.72 1771.73,89.79 1767.86,89.88 1763.98,90.11 1760.11,90.23 1756.23,90.22 1752.36,90.48 1748.49,90.53 1744.61,90.75 1740.74,90.86 1736.86,90.75 1732.99,91.26 1729.12,91.3 1725.24,91.44 1721.37,91.5 1717.49,91.52 1713.62,91.94 1709.75,91.87 1705.87,92.22 1702,92.45 1698.12,92.55 1694.25,92.78 1690.38,92.75 1686.5,93.21 1682.63,93.64 1678.75,93.86 1674.88,93.98 1671.01,94.06 1667.13,94.31 1663.26,94.61 1659.38,94.97 1655.51,95.21 1651.64,95.95 1647.76,96.03 1643.89,96.16 1640.01,97.1 1636.14,97.47 1632.27,97.67 1628.39,98.02 1624.52,98.84 1620.64,98.96 1616.77,99.56 1612.9,100.03 1609.02,100.3 1605.15,100.9 1601.27,101.92 1597.4,102.46 1593.53,103.13 1589.65,104.69 1585.78,105.29 1581.9,105.99 1578.03,107.08 1574.16,108.78 1570.28,110.23 1566.41,111.6 1562.53,113.8 1558.66,114.3 1554.79,116.67 1550.91,117.81 1547.04,120.2 1543.16,122.14 1539.29,124.41 1535.42,125.92 1531.54,128.55 1527.67,131.46 1523.79,135.48 1519.92,137.94 1516.05,142.41 1512.17,145.73 1508.3,151.15 1504.42,155.67 1500.55,160.39 1496.68,163.81 1492.8,167.13 1488.93,172.79 1485.05,179.93 1481.18,188.15 1477.31,192.86 1473.43,198.18 1469.56,207.23 1465.68,217.22 1461.81,227.76 1457.94,237.07 1454.06,249.34 1450.19,264.51 1446.31,283.89 1442.44,305.18 1438.57,325.24 1434.69,345.76 1430.82,368.76 1426.94,392.49 1423.07,415.01 1419.2,436.78 1415.32,461.22 1411.45,489.27 1407.57,521.5" fill="#e5a897"/>
<polyline points="1407.57,508 1411.45,467.06 1415.32,435.78 1419.2,408.12 1423.07,377.68 1426.94,351.17 1430.82,322.11 1434.69,296.21 1438.57,277.6 1442.44,263.01 1446.31,246.15 1450.19,232.57 1454.06,217.97 1457.94,204.09 1461.81,194.78 1465.68,190.52 1469.56,179.77 1473.43,171.81 1477.31,166.1 1481.18,160.35 1485.05,155.4 1488.93,150.44 1492.8,145.42 1496.68,143.24 1500.55,138.31 1504.42,135.55 1508.3,132.45 1512.17,129.79 1516.05,126.05 1519.92,123.52 1523.79,121.31 1527.67,118.18 1531.54,116.97 1535.42,115.02 1539.29,113.23 1543.16,112.29 1547.04,110.51 1550.91,109.95 1554.79,108.55 1558.66,105.91 1562.53,105.59 1566.41,104.11 1570.28,103.69 1574.16,102.66 1578.03,102.09 1581.9,101.17 1585.78,100.6 1589.65,99.67 1593.53,98.48 1597.4,98.19 1601.27,97.64 1605.15,97.13 1609.02,96.47 1612.9,96.57 1616.77,95.75 1620.64,95.66 1624.52,94.96 1628.39,95.02 1632.27,94.15 1636.14,94.19 1640.01,93.56 1643.89,93.61 1647.76,93.53 1651.64,92.74 1655.51,92.62 1659.38,92.55 1663.26,92.25 1667.13,91.84 1671.01,91.99 1674.88,91.62 1678.75,91.58 1682.63,91.26 1686.5,90.89 1690.38,90.81 1694.25,90.87 1698.12,90.4 1702,90.38 1705.87,90.37 1709.75,90.29 1713.62,90.14 1717.49,89.78 1721.37,90.02 1725.24,89.68 1729.12,89.58 1732.99,89.47 1736.86,89.34 1740.74,89.17 1744.61,89.12 1748.49,89.17 1752.36,88.85 1756.23,88.67 1760.11,88.82 1763.98,88.72 1767.86,88.66 1771.73,88.66 1775.6,88.41 1779.48,88.4 1783.35,88.36 1787.23,88.34 1791.1,88.27 1794.97,88.09 1798.85,88.01 1802.72,88.04 1806.6,87.92 1810.47,88.04 1814.34,87.92 1818.22,87.89 1822.09,87.83 1825.97,87.91 1829.84,87.82 1833.71,87.75 1837.59,87.76 1841.46,87.7 1845.34,87.7 1849.21,87.69 1853.08,87.6 1856.96,87.6 1860.83,87.57 1864.71,87.57 1868.58,87.52 1872.45,87.48 1876.33,87.43 1880.2,87.44 1884.08,87.37 1887.95,87.41 1891.82,87.36 1895.7,87.36 1899.57,87.3 1903.45,87.28 1907.32,87.26 1911.19,87.31 1915.07,87.25 1918.94,87.24 1922.82,87.17 1926.69,87.23 1930.56,87.1 1934.44,87.26 1938.31,87.2 1942.19,87.2 1946.06,87.15 1949.93,87.16" fill="none" stroke="#c1272d" stroke-width="5.5" stroke-linejoin="round"/>
<polygon points="1407.57,335 1411.45,291.18 1415.32,271.95 1419.2,264.38 1423.07,253.3 1426.94,243.89 1430.82,232.2 1434.69,231.75 1438.57,228.17 1442.44,226.6 1446.31,224.7 1450.19,224.04 1454.06,222.09 1457.94,217.59 1461.81,218.65 1465.68,217.47 1469.56,218.43 1473.43,217.48 1477.31,213.76 1481.18,218.33 1485.05,216.34 1488.93,212.61 1492.8,216.98 1496.68,215.15 1500.55,215.65 1504.42,214.87 1508.3,215.03 1512.17,213.89 1516.05,211.95 1519.92,213.62 1523.79,214.89 1527.67,214.63 1531.54,215.61 1535.42,214.38 1539.29,210.86 1543.16,215.72 1547.04,213.2 1550.91,212.33 1554.79,214 1558.66,212.31 1562.53,215.14 1566.41,213.06 1570.28,217.75 1574.16,214.2 1578.03,213.72 1581.9,213.59 1585.78,211.17 1589.65,213.3 1593.53,213.52 1597.4,214.26 1601.27,211.22 1605.15,214.95 1609.02,217.03 1612.9,214.29 1616.77,214.95 1620.64,215.79 1624.52,213.85 1628.39,214.5 1632.27,216.83 1636.14,215.65 1640.01,213.44 1643.89,212.65 1647.76,219.27 1651.64,216.5 1655.51,213.5 1659.38,216.46 1663.26,217.51 1667.13,216.9 1671.01,214.16 1674.88,219.94 1678.75,218.4 1682.63,217.53 1686.5,219.01 1690.38,218.01 1694.25,218.1 1698.12,219.9 1702,216.39 1705.87,220.34 1709.75,219.73 1713.62,220.31 1717.49,220.63 1721.37,221.51 1725.24,221.49 1729.12,220.95 1732.99,219.62 1736.86,220.96 1740.74,219.78 1744.61,219.39 1748.49,221.05 1752.36,221.06 1756.23,222.05 1760.11,218.72 1763.98,221.66 1767.86,221.86 1771.73,221.43 1775.6,222.89 1779.48,220.74 1783.35,222.03 1787.23,221.49 1791.1,221.95 1794.97,221.21 1798.85,222.1 1802.72,222.94 1806.6,222.58 1810.47,222.9 1814.34,222.09 1818.22,224.19 1822.09,222.44 1825.97,223.16 1829.84,223.75 1833.71,223.29 1837.59,224.16 1841.46,223.88 1845.34,225.14 1849.21,224.45 1853.08,224.5 1856.96,223.84 1860.83,224.88 1864.71,225.4 1868.58,225.19 1872.45,224.52 1876.33,224.96 1880.2,225.35 1884.08,225.69 1887.95,225.11 1891.82,227.1 1895.7,226.24 1899.57,226.57 1903.45,226.51 1907.32,226.93 1911.19,228.02 1915.07,227.02 1918.94,227.46 1922.82,227.55 1926.69,228.01 1930.56,228.93 1934.44,228.59 1938.31,228.94 1942.19,228.88 1946.06,229.59 1949.93,230.07 1949.93,229.85 1946.06,230.8 1942.19,231.45 1938.31,231.27 1934.44,231.78 1930.56,232.26 1926.69,232.73 1922.82,232.77 1918.94,232.68 1915.07,232.8 1911.19,232.63 1907.32,233.41 1903.45,232.62 1899.57,234.49 1895.7,234.51 1891.82,234.98 1887.95,235.41 1884.08,234.69 1880.2,234.47 1876.33,235.99 1872.45,236.32 1868.58,235.68 1864.71,235.36 1860.83,236.62 1856.96,235.4 1853.08,236.3 1849.21,237.15 1845.34,236.59 1841.46,236.85 1837.59,236.11 1833.71,236.81 1829.84,237.01 1825.97,237.89 1822.09,239.52 1818.22,238.43 1814.34,239.34 1810.47,237.84 1806.6,239.48 1802.72,239.14 1798.85,239.24 1794.97,238.73 1791.1,240.26 1787.23,239.55 1783.35,239.67 1779.48,241.77 1775.6,239.57 1771.73,240.31 1767.86,241.88 1763.98,240.44 1760.11,240.11 1756.23,242.65 1752.36,243.69 1748.49,241.11 1744.61,242.03 1740.74,243.07 1736.86,242.78 1732.99,245.01 1729.12,244.68 1725.24,244.65 1721.37,244.3 1717.49,247.06 1713.62,245.61 1709.75,246.87 1705.87,246.48 1702,248.33 1698.12,248.91 1694.25,250.33 1690.38,250.14 1686.5,249.68 1682.63,250.22 1678.75,250.48 1674.88,253.9 1671.01,252.97 1667.13,253.95 1663.26,256.62 1659.38,252.86 1655.51,254.42 1651.64,252.31 1647.76,253.62 1643.89,256.7 1640.01,256.25 1636.14,255.35 1632.27,254.88 1628.39,254.95 1624.52,252.89 1620.64,258.46 1616.77,258.74 1612.9,258.12 1609.02,257.57 1605.15,260.55 1601.27,258.87 1597.4,259.37 1593.53,262.62 1589.65,266.04 1585.78,262.79 1581.9,264.93 1578.03,267.86 1574.16,265.73 1570.28,265.69 1566.41,271.16 1562.53,267.49 1558.66,267.49 1554.79,268.62 1550.91,271.74 1547.04,273 1543.16,271.44 1539.29,270.4 1535.42,271.2 1531.54,279.92 1527.67,279.19 1523.79,277.46 1519.92,281.45 1516.05,281.31 1512.17,278.78 1508.3,284.02 1504.42,284.18 1500.55,285.39 1496.68,290.92 1492.8,292.16 1488.93,288.44 1485.05,297.05 1481.18,302.22 1477.31,299.26 1473.43,305.89 1469.56,307.27 1465.68,307.63 1461.81,315.14 1457.94,315.07 1454.06,321.67 1450.19,322.24 1446.31,327.23 1442.44,334.13 1438.57,339.09 1434.69,356.11 1430.82,363.1 1426.94,377.13 1423.07,389.76 1419.2,404.02 1415.32,421.38 1411.45,439.69 1407.57,485" fill="#63c5cd" fill-opacity="0.3"/>
<g clip-path="url(#cyclip)">
<polygon points="1407.57,495 1411.45,446.11 1415.32,403.84 1419.2,365.12 1423.07,335.06 1426.94,306.93 1430.82,282.77 1434.69,261.81 1438.57,242.45 1442.44,223.96 1446.31,207.76 1450.19,193.43 1454.06,182.84 1457.94,174.36 1461.81,166.18 1465.68,160.06 1469.56,155.4 1473.43,150.54 1477.31,144.53 1481.18,139.58 1485.05,136.57 1488.93,131.64 1492.8,128.8 1496.68,126.25 1500.55,122.86 1504.42,119.97 1508.3,118.15 1512.17,115.1 1516.05,113.51 1519.92,111.43 1523.79,110 1527.67,108.27 1531.54,107.05 1535.42,105.68 1539.29,104.82 1543.16,103.8 1547.04,102.98 1550.91,102.61 1554.79,100.43 1558.66,100.78 1562.53,99.32 1566.41,98.16 1570.28,97.81 1574.16,97.24 1578.03,96.93 1581.9,95.71 1585.78,95.52 1589.65,94.96 1593.53,93.99 1597.4,93.65 1601.27,93.63 1605.15,93.22 1609.02,92.91 1612.9,92.43 1616.77,92.06 1620.64,91.68 1624.52,91.59 1628.39,90.9 1632.27,90.79 1636.14,90.66 1640.01,90.12 1643.89,90.46 1647.76,89.93 1651.64,89.89 1655.51,90.09 1659.38,89.48 1663.26,89.38 1667.13,89.55 1671.01,89.04 1674.88,89.01 1678.75,89.02 1682.63,88.9 1686.5,88.8 1690.38,88.67 1694.25,88.69 1698.12,88.55 1702,88.42 1705.87,88.19 1709.75,88.11 1713.62,87.91 1717.49,88.11 1721.37,87.79 1725.24,88 1729.12,88.02 1732.99,87.69 1736.86,87.66 1740.74,87.62 1744.61,87.67 1748.49,87.46 1752.36,87.47 1756.23,87.38 1760.11,87.35 1763.98,87.42 1767.86,87.2 1771.73,87.23 1775.6,87.2 1779.48,87.2 1783.35,87.02 1787.23,87.15 1791.1,87.08 1794.97,87.09 1798.85,87.02 1802.72,86.91 1806.6,86.96 1810.47,87.04 1814.34,87 1818.22,87 1822.09,87.09 1825.97,87.1 1829.84,87 1833.71,87.08 1837.59,86.92 1841.46,86.92 1845.34,87.04 1849.21,87 1853.08,87.03 1856.96,87.03 1860.83,87.01 1864.71,87.04 1868.58,87.02 1872.45,86.97 1876.33,87.03 1880.2,87.03 1884.08,87.09 1887.95,87 1891.82,87.04 1895.7,87.03 1899.57,87.05 1903.45,87.12 1907.32,87.08 1911.19,87.06 1915.07,87.09 1918.94,87.12 1922.82,87.07 1926.69,87.11 1930.56,87.18 1934.44,87.17 1938.31,87.15 1942.19,87.15 1946.06,87.18 1949.93,87.15 1949.93,87.17 1946.06,87.22 1942.19,87.16 1938.31,87.22 1934.44,87.23 1930.56,87.24 1926.69,87.31 1922.82,87.36 1918.94,87.3 1915.07,87.35 1911.19,87.43 1907.32,87.49 1903.45,87.53 1899.57,87.56 1895.7,87.58 1891.82,87.66 1887.95,87.68 1884.08,87.72 1880.2,87.76 1876.33,87.9 1872.45,87.93 1868.58,87.97 1864.71,88.06 1860.83,88.06 1856.96,88.12 1853.08,88.19 1849.21,88.23 1845.34,88.39 1841.46,88.45 1837.59,88.45 1833.71,88.51 1829.84,88.61 1825.97,88.67 1822.09,88.7 1818.22,88.83 1814.34,88.84 1810.47,88.91 1806.6,88.97 1802.72,89.09 1798.85,89.18 1794.97,89.34 1791.1,89.44 1787.23,89.45 1783.35,89.61 1779.48,89.59 1775.6,89.72 1771.73,89.79 1767.86,89.88 1763.98,90.11 1760.11,90.23 1756.23,90.22 1752.36,90.48 1748.49,90.53 1744.61,90.75 1740.74,90.86 1736.86,90.75 1732.99,91.26 1729.12,91.3 1725.24,91.44 1721.37,91.5 1717.49,91.52 1713.62,91.94 1709.75,91.87 1705.87,92.22 1702,92.45 1698.12,92.55 1694.25,92.78 1690.38,92.75 1686.5,93.21 1682.63,93.64 1678.75,93.86 1674.88,93.98 1671.01,94.06 1667.13,94.31 1663.26,94.61 1659.38,94.97 1655.51,95.21 1651.64,95.95 1647.76,96.03 1643.89,96.16 1640.01,97.1 1636.14,97.47 1632.27,97.67 1628.39,98.02 1624.52,98.84 1620.64,98.96 1616.77,99.56 1612.9,100.03 1609.02,100.3 1605.15,100.9 1601.27,101.92 1597.4,102.46 1593.53,103.13 1589.65,104.69 1585.78,105.29 1581.9,105.99 1578.03,107.08 1574.16,108.78 1570.28,110.23 1566.41,111.6 1562.53,113.8 1558.66,114.3 1554.79,116.67 1550.91,117.81 1547.04,120.2 1543.16,122.14 1539.29,124.41 1535.42,125.92 1531.54,128.55 1527.67,131.46 1523.79,135.48 1519.92,137.94 1516.05,142.41 1512.17,145.73 1508.3,151.15 1504.42,155.67 1500.55,160.39 1496.68,163.81 1492.8,167.13 1488.93,172.79 1485.05,179.93 1481.18,188.15 1477.31,192.86 1473.43,198.18 1469.56,207.23 1465.68,217.22 1461.81,227.76 1457.94,237.07 1454.06,249.34 1450.19,264.51 1446.31,283.89 1442.44,305.18 1438.57,325.24 1434.69,345.76 1430.82,368.76 1426.94,392.49 1423.07,415.01 1419.2,436.78 1415.32,461.22 1411.45,489.27 1407.57,521.5" fill="#c5b0a2"/>
<polyline points="1407.57,508 1411.45,467.06 1415.32,435.78 1419.2,408.12 1423.07,377.68 1426.94,351.17 1430.82,322.11 1434.69,296.21 1438.57,277.6 1442.44,263.01 1446.31,246.15 1450.19,232.57 1454.06,217.97 1457.94,204.09 1461.81,194.78 1465.68,190.52 1469.56,179.77 1473.43,171.81 1477.31,166.1 1481.18,160.35 1485.05,155.4 1488.93,150.44 1492.8,145.42 1496.68,143.24 1500.55,138.31 1504.42,135.55 1508.3,132.45 1512.17,129.79 1516.05,126.05 1519.92,123.52 1523.79,121.31 1527.67,118.18 1531.54,116.97 1535.42,115.02 1539.29,113.23 1543.16,112.29 1547.04,110.51 1550.91,109.95 1554.79,108.55 1558.66,105.91 1562.53,105.59 1566.41,104.11 1570.28,103.69 1574.16,102.66 1578.03,102.09 1581.9,101.17 1585.78,100.6 1589.65,99.67 1593.53,98.48 1597.4,98.19 1601.27,97.64 1605.15,97.13 1609.02,96.47 1612.9,96.57 1616.77,95.75 1620.64,95.66 1624.52,94.96 1628.39,95.02 1632.27,94.15 1636.14,94.19 1640.01,93.56 1643.89,93.61 1647.76,93.53 1651.64,92.74 1655.51,92.62 1659.38,92.55 1663.26,92.25 1667.13,91.84 1671.01,91.99 1674.88,91.62 1678.75,91.58 1682.63,91.26 1686.5,90.89 1690.38,90.81 1694.25,90.87 1698.12,90.4 1702,90.38 1705.87,90.37 1709.75,90.29 1713.62,90.14 1717.49,89.78 1721.37,90.02 1725.24,89.68 1729.12,89.58 1732.99,89.47 1736.86,89.34 1740.74,89.17 1744.61,89.12 1748.49,89.17 1752.36,88.85 1756.23,88.67 1760.11,88.82 1763.98,88.72 1767.86,88.66 1771.73,88.66 1775.6,88.41 1779.48,88.4 1783.35,88.36 1787.23,88.34 1791.1,88.27 1794.97,88.09 1798.85,88.01 1802.72,88.04 1806.6,87.92 1810.47,88.04 1814.34,87.92 1818.22,87.89 1822.09,87.83 1825.97,87.91 1829.84,87.82 1833.71,87.75 1837.59,87.76 1841.46,87.7 1845.34,87.7 1849.21,87.69 1853.08,87.6 1856.96,87.6 1860.83,87.57 1864.71,87.57 1868.58,87.52 1872.45,87.48 1876.33,87.43 1880.2,87.44 1884.08,87.37 1887.95,87.41 1891.82,87.36 1895.7,87.36 1899.57,87.3 1903.45,87.28 1907.32,87.26 1911.19,87.31 1915.07,87.25 1918.94,87.24 1922.82,87.17 1926.69,87.23 1930.56,87.1 1934.44,87.26 1938.31,87.2 1942.19,87.2 1946.06,87.15 1949.93,87.16" fill="none" stroke="#b56b56" stroke-width="5.5" stroke-linejoin="round"/>
</g>
<polyline points="1407.57,422.9 1411.45,372.79 1415.32,344.16 1419.2,327.67 1423.07,316.62 1426.94,304.16 1430.82,297.42 1434.69,292.63 1438.57,285.68 1442.44,280.29 1446.31,275.31 1450.19,273.21 1454.06,268.6 1457.94,268.23 1461.81,265.02 1465.68,265.06 1469.56,260.07 1473.43,260.04 1477.31,259.17 1481.18,257.84 1485.05,254.42 1488.93,253.68 1492.8,252 1496.68,249.83 1500.55,249.14 1504.42,250.16 1508.3,247.26 1512.17,246.01 1516.05,247.63 1519.92,248.36 1523.79,243.99 1527.67,248.93 1531.54,246.23 1535.42,246 1539.29,242.96 1543.16,243.55 1547.04,245.87 1550.91,245.49 1554.79,243.22 1558.66,241.49 1562.53,241.41 1566.41,243.26 1570.28,239.91 1574.16,239.35 1578.03,240.32 1581.9,241.63 1585.78,238.29 1589.65,239.9 1593.53,239.17 1597.4,238.08 1601.27,237.16 1605.15,238.55 1609.02,237.8 1612.9,234.53 1616.77,239.02 1620.64,237.13 1624.52,236.79 1628.39,235.65 1632.27,235.64 1636.14,232.17 1640.01,235.5 1643.89,236.61 1647.76,236.52 1651.64,234.51 1655.51,231.97 1659.38,233.67 1663.26,234.76 1667.13,236.92 1671.01,232.78 1674.88,234.96 1678.75,235.64 1682.63,235.58 1686.5,234.57 1690.38,231.18 1694.25,235.23 1698.12,234.56 1702,234.94 1705.87,233.15 1709.75,233.59 1713.62,235.65 1717.49,233.81 1721.37,233.79 1725.24,232.95 1729.12,234.86 1732.99,231.81 1736.86,232.84 1740.74,233.66 1744.61,233.09 1748.49,233.85 1752.36,233.3 1756.23,234.12 1760.11,232.5 1763.98,232.48 1767.86,232.75 1771.73,230.88 1775.6,233.51 1779.48,231.48 1783.35,233.08 1787.23,233.24 1791.1,232.81 1794.97,232.1 1798.85,231.4 1802.72,230.22 1806.6,232.18 1810.47,231.52 1814.34,232.86 1818.22,231.37 1822.09,231.95 1825.97,231.18 1829.84,231.68 1833.71,231.11 1837.59,231.17 1841.46,230.05 1845.34,230.73 1849.21,231.01 1853.08,231.79 1856.96,231.15 1860.83,230.27 1864.71,231.75 1868.58,231.03 1872.45,231.36 1876.33,230.3 1880.2,229.12 1884.08,230.3 1887.95,230.15 1891.82,230.69 1895.7,229.89 1899.57,230.14 1903.45,229.94 1907.32,230.47 1911.19,230.08 1915.07,230.8 1918.94,230.57 1922.82,230.54 1926.69,230.24 1930.56,230.32 1934.44,230.42 1938.31,230.06 1942.19,230.47 1946.06,230.19 1949.93,230.45" fill="none" stroke="#63c5cd" stroke-width="5.5" stroke-linejoin="round"/>
<polygon points="1407.57,262 1411.45,226.17 1415.32,203.28 1419.2,173.12 1423.07,154.52 1426.94,135.86 1430.82,124.57 1434.69,116.62 1438.57,111.5 1442.44,106.8 1446.31,104.09 1450.19,102.65 1454.06,100.02 1457.94,99.58 1461.81,98.36 1465.68,99.47 1469.56,94.98 1473.43,93.99 1477.31,94.5 1481.18,93.15 1485.05,91.68 1488.93,92.76 1492.8,92.45 1496.68,92.14 1500.55,90.27 1504.42,90.25 1508.3,90.1 1512.17,89.68 1516.05,90.04 1519.92,88.82 1523.79,89.13 1527.67,87.46 1531.54,88.95 1535.42,89.23 1539.29,88.26 1543.16,88.63 1547.04,87.35 1550.91,87.83 1554.79,87.3 1558.66,87.9 1562.53,87.89 1566.41,87.22 1570.28,87.33 1574.16,87.34 1578.03,88.06 1581.9,87.34 1585.78,87.31 1589.65,87.29 1593.53,87.2 1597.4,87.01 1601.27,86.72 1605.15,86.79 1609.02,87.17 1612.9,86.85 1616.77,86.68 1620.64,86.45 1624.52,86.63 1628.39,86.6 1632.27,86.45 1636.14,86.66 1640.01,86.41 1643.89,86.45 1647.76,86.57 1651.64,86.47 1655.51,86.56 1659.38,86.37 1663.26,86.32 1667.13,86.41 1671.01,86.36 1674.88,86.45 1678.75,86.34 1682.63,86.28 1686.5,86.31 1690.38,86.31 1694.25,86.12 1698.12,86.2 1702,86.17 1705.87,86.3 1709.75,86.13 1713.62,86.25 1717.49,86.04 1721.37,86.13 1725.24,86.21 1729.12,86.09 1732.99,86.19 1736.86,85.93 1740.74,86.08 1744.61,86.08 1748.49,86.05 1752.36,85.95 1756.23,86.09 1760.11,85.89 1763.98,86.09 1767.86,86.04 1771.73,86.08 1775.6,86 1779.48,85.95 1783.35,85.98 1787.23,85.98 1791.1,86.03 1794.97,85.99 1798.85,86.02 1802.72,86.02 1806.6,86.07 1810.47,85.9 1814.34,85.98 1818.22,86.04 1822.09,86.04 1825.97,85.98 1829.84,85.99 1833.71,86 1837.59,86.01 1841.46,85.98 1845.34,85.98 1849.21,85.96 1853.08,86 1856.96,86.09 1860.83,85.97 1864.71,86.07 1868.58,86.13 1872.45,86.04 1876.33,86.16 1880.2,86.04 1884.08,86.13 1887.95,86.05 1891.82,86 1895.7,86.08 1899.57,86.17 1903.45,86.05 1907.32,86.11 1911.19,86.04 1915.07,86.06 1918.94,86.13 1922.82,86.11 1926.69,86.16 1930.56,86.21 1934.44,86.09 1938.31,86.13 1942.19,86.18 1946.06,86.3 1949.93,86.19 1949.93,86.16 1946.06,86.37 1942.19,86.24 1938.31,86.21 1934.44,86.14 1930.56,86.27 1926.69,86.39 1922.82,86.33 1918.94,86.31 1915.07,86.32 1911.19,86.35 1907.32,86.4 1903.45,86.36 1899.57,86.39 1895.7,86.31 1891.82,86.51 1887.95,86.36 1884.08,86.52 1880.2,86.51 1876.33,86.53 1872.45,86.57 1868.58,86.62 1864.71,86.67 1860.83,86.66 1856.96,86.73 1853.08,86.73 1849.21,86.81 1845.34,86.81 1841.46,86.88 1837.59,86.87 1833.71,86.92 1829.84,86.91 1825.97,86.98 1822.09,86.97 1818.22,87.05 1814.34,87.13 1810.47,87.08 1806.6,87.11 1802.72,87.08 1798.85,87.23 1794.97,87.32 1791.1,87.32 1787.23,87.37 1783.35,87.32 1779.48,87.46 1775.6,87.38 1771.73,87.41 1767.86,87.55 1763.98,87.53 1760.11,87.62 1756.23,87.66 1752.36,87.66 1748.49,87.86 1744.61,87.72 1740.74,87.78 1736.86,88 1732.99,88.02 1729.12,88.18 1725.24,88.08 1721.37,88.33 1717.49,88.24 1713.62,88.39 1709.75,88.35 1705.87,88.49 1702,88.43 1698.12,88.68 1694.25,88.62 1690.38,88.92 1686.5,88.59 1682.63,88.79 1678.75,89.16 1674.88,89.37 1671.01,89.08 1667.13,89.4 1663.26,89.33 1659.38,89.64 1655.51,89.73 1651.64,89.95 1647.76,90.07 1643.89,90.03 1640.01,90.31 1636.14,90.32 1632.27,90.77 1628.39,90.8 1624.52,90.97 1620.64,91.17 1616.77,91.07 1612.9,91.47 1609.02,91.74 1605.15,91.79 1601.27,91.77 1597.4,92.32 1593.53,92.74 1589.65,92.79 1585.78,93.23 1581.9,93.55 1578.03,94.09 1574.16,94.48 1570.28,94.72 1566.41,95.26 1562.53,96.08 1558.66,96.64 1554.79,96.92 1550.91,98.3 1547.04,98.67 1543.16,99.59 1539.29,100.16 1535.42,101.19 1531.54,102.41 1527.67,103.96 1523.79,104.11 1519.92,106.1 1516.05,105.3 1512.17,106.59 1508.3,108.14 1504.42,109.39 1500.55,112.32 1496.68,113.21 1492.8,114.44 1488.93,118.25 1485.05,119.58 1481.18,122.46 1477.31,125.85 1473.43,130.23 1469.56,136.86 1465.68,141.17 1461.81,145.57 1457.94,146.92 1454.06,151.31 1450.19,162.68 1446.31,170.99 1442.44,178.18 1438.57,192.35 1434.69,215 1430.82,235.38 1426.94,263.24 1423.07,286.58 1419.2,313.5 1415.32,346.91 1411.45,426.53 1407.57,500" fill="#662d91" fill-opacity="0.36"/>
<polyline points="1407.57,386.4 1411.45,313.48 1415.32,273.87 1419.2,242.4 1423.07,219.4 1426.94,194.51 1430.82,176.94 1434.69,166.78 1438.57,153.7 1442.44,144.72 1446.31,139.41 1450.19,131.92 1454.06,125.46 1457.94,121.77 1461.81,120.99 1465.68,116.96 1469.56,115.15 1473.43,111.87 1477.31,109.76 1481.18,109.57 1485.05,106.38 1488.93,104.15 1492.8,103.12 1496.68,100.94 1500.55,99.58 1504.42,100.18 1508.3,99.17 1512.17,97.43 1516.05,97.54 1519.92,97.15 1523.79,95.92 1527.67,95.22 1531.54,93.85 1535.42,93.84 1539.29,92.78 1543.16,93.53 1547.04,92.73 1550.91,92.89 1554.79,91.95 1558.66,92.16 1562.53,91.25 1566.41,91.33 1570.28,91.34 1574.16,91.08 1578.03,90.79 1581.9,90.28 1585.78,90.68 1589.65,90.37 1593.53,90.28 1597.4,90.12 1601.27,89.72 1605.15,89.71 1609.02,89.92 1612.9,89.28 1616.77,89.36 1620.64,89.12 1624.52,89.35 1628.39,89.06 1632.27,88.82 1636.14,88.8 1640.01,88.63 1643.89,88.46 1647.76,88.33 1651.64,88.48 1655.51,88.35 1659.38,88.41 1663.26,88.23 1667.13,88.25 1671.01,88.31 1674.88,87.96 1678.75,87.88 1682.63,88 1686.5,88.03 1690.38,87.69 1694.25,87.56 1698.12,87.6 1702,87.53 1705.87,87.55 1709.75,87.36 1713.62,87.36 1717.49,87.31 1721.37,87.18 1725.24,87.14 1729.12,87.22 1732.99,87.18 1736.86,87.06 1740.74,87.16 1744.61,87.08 1748.49,87.01 1752.36,86.98 1756.23,86.93 1760.11,86.91 1763.98,86.88 1767.86,86.81 1771.73,86.68 1775.6,86.74 1779.48,86.68 1783.35,86.64 1787.23,86.69 1791.1,86.57 1794.97,86.66 1798.85,86.58 1802.72,86.54 1806.6,86.54 1810.47,86.65 1814.34,86.6 1818.22,86.51 1822.09,86.55 1825.97,86.56 1829.84,86.44 1833.71,86.45 1837.59,86.48 1841.46,86.45 1845.34,86.4 1849.21,86.47 1853.08,86.41 1856.96,86.41 1860.83,86.46 1864.71,86.37 1868.58,86.45 1872.45,86.34 1876.33,86.31 1880.2,86.31 1884.08,86.33 1887.95,86.31 1891.82,86.29 1895.7,86.2 1899.57,86.21 1903.45,86.24 1907.32,86.27 1911.19,86.29 1915.07,86.13 1918.94,86.22 1922.82,86.2 1926.69,86.21 1930.56,86.22 1934.44,86.17 1938.31,86.15 1942.19,86.24 1946.06,86.23 1949.93,86.18" fill="none" stroke="#662d91" stroke-width="5.5" stroke-linejoin="round"/>
<text x="1378.39" y="547.3" font-size="20" fill="#48484a" stroke="#48484a" stroke-width="0.3" stroke-linejoin="round">0</text>
<text x="1366.47" y="318.4" font-size="20" fill="#48484a" stroke="#48484a" stroke-width="0.3" stroke-linejoin="round">50</text>
<text x="1354.55" y="89.5" font-size="20" fill="#48484a" stroke="#48484a" stroke-width="0.3" stroke-linejoin="round">100</text>
<rect x="1355.4" y="86.56" width="4.01" height="4.39" fill="#ffffff"/>
<rect x="1361.52" y="86.56" width="3.82" height="4.39" fill="#ffffff"/>
<text x="1394.09" y="571.1" font-size="20" fill="#48484a" stroke="#48484a" stroke-width="0.3" stroke-linejoin="round">0</text>
<text x="1584.17" y="571.1" font-size="20" fill="#48484a" stroke="#48484a" stroke-width="0.3" stroke-linejoin="round">50</text>
<text x="1773.65" y="571.1" font-size="20" fill="#48484a" stroke="#48484a" stroke-width="0.3" stroke-linejoin="round">100</text>
<rect x="1774.5" y="568.16" width="4.01" height="4.39" fill="#ffffff"/>
<rect x="1780.62" y="568.16" width="3.82" height="4.39" fill="#ffffff"/>
<text x="1966.45" y="571.1" font-size="20" fill="#48484a" stroke="#48484a" stroke-width="0.3" stroke-linejoin="round">150</text>
<rect x="1967.3" y="568.16" width="4.01" height="4.39" fill="#ffffff"/>
<rect x="1973.42" y="568.16" width="3.82" height="4.39" fill="#ffffff"/>
<text y="32.8" font-size="46.5" fill="#231f20" stroke="#231f20" stroke-width="0.9" stroke-linejoin="round"><tspan x="1312.72" textLength="27.86" lengthAdjust="spacingAndGlyphs">C</tspan></text>
<text y="52.2" font-size="26.2" fill="#231f20" stroke="#231f20" stroke-width="0.45" stroke-linejoin="round"><tspan x="1553.42" textLength="129.96" lengthAdjust="spacingAndGlyphs">population</tspan> <tspan x="1688.72" textLength="149.55" lengthAdjust="spacingAndGlyphs">classification</tspan></text>
<text y="611.5" font-size="26.2" fill="#231f20" stroke="#231f20" stroke-width="0.45" stroke-linejoin="round"><tspan x="1552.82" textLength="130.06" lengthAdjust="spacingAndGlyphs">population</tspan> <tspan x="1688.11" textLength="43.75" lengthAdjust="spacingAndGlyphs">size</tspan> <tspan x="1738.24" textLength="22.78" lengthAdjust="spacingAndGlyphs">(n</tspan> <tspan x="1767.06" textLength="59.12" lengthAdjust="spacingAndGlyphs">cells)</tspan></text>
<text y="1347.1" font-size="26.2" fill="#231f20" transform="rotate(-90)" stroke="#231f20" stroke-width="0.45" stroke-linejoin="round"><tspan x="-437.46" textLength="22.42" lengthAdjust="spacingAndGlyphs">%</tspan> <tspan x="-409.09" textLength="100.02" lengthAdjust="spacingAndGlyphs">correctly</tspan> <tspan x="-301.76" textLength="106.18" lengthAdjust="spacingAndGlyphs">classified</tspan></text>
<text y="388.5" font-size="23.3" fill="#63c5cd" stroke="#63c5cd" stroke-width="0.45" stroke-linejoin="round"><tspan x="1642.59" textLength="68.34" lengthAdjust="spacingAndGlyphs">timing</tspan> <tspan x="1716.23" textLength="134.36" lengthAdjust="spacingAndGlyphs">classification</tspan></text>
<text y="411.3" font-size="23.3" fill="#c1272d" stroke="#c1272d" stroke-width="0.45" stroke-linejoin="round"><tspan x="1641.87" textLength="40.7" lengthAdjust="spacingAndGlyphs">rate</tspan> <tspan x="1688.03" textLength="134.51" lengthAdjust="spacingAndGlyphs">classification</tspan></text>
<text y="433.5" font-size="23.3" fill="#662d91" stroke="#662d91" stroke-width="0.45" stroke-linejoin="round"><tspan x="1641.87" textLength="40.7" lengthAdjust="spacingAndGlyphs">rate</tspan> <tspan x="1688.22" textLength="15.4" lengthAdjust="spacingAndGlyphs">&amp;</tspan> <tspan x="1708.84" textLength="68.39" lengthAdjust="spacingAndGlyphs">timing</tspan> <tspan x="1782.98" textLength="134.51" lengthAdjust="spacingAndGlyphs">classification</tspan></text>
</g>
</svg>
</body></html>
